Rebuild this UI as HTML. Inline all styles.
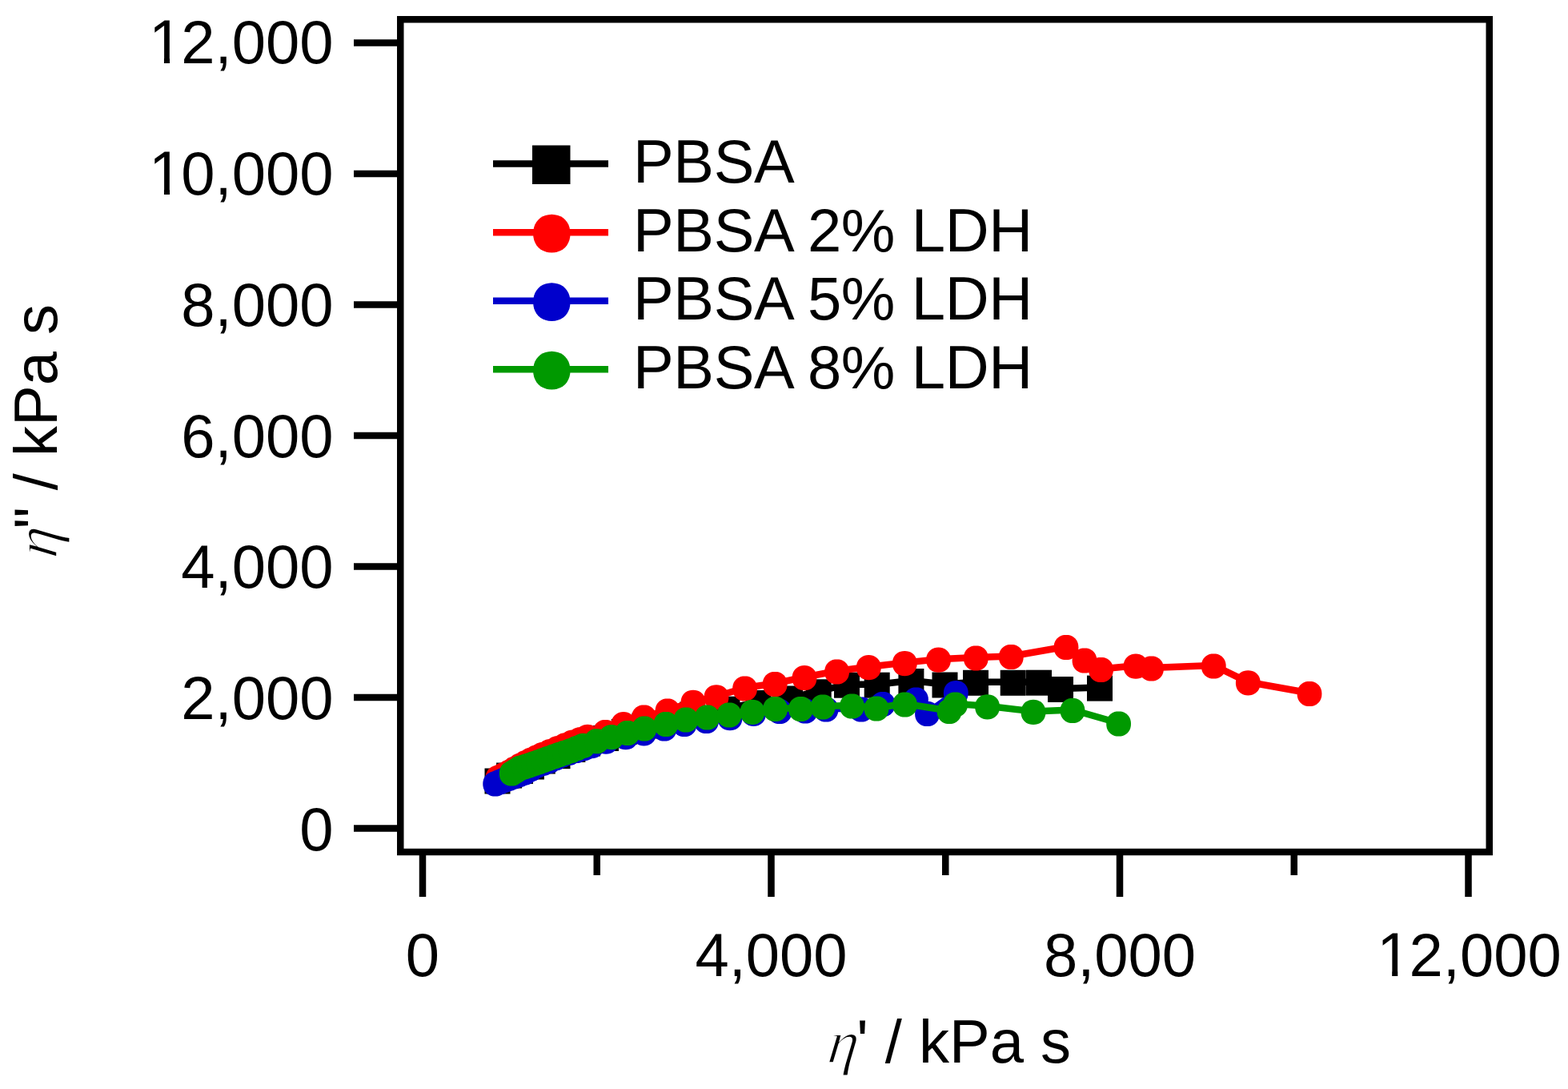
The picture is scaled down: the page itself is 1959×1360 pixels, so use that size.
<!DOCTYPE html>
<html><head><meta charset="utf-8"><title>Cole-Cole plot</title>
<style>html,body{margin:0;padding:0;background:#fff;}body{width:1959px;height:1360px;overflow:hidden;}svg{display:block;}</style>
</head><body>
<svg width="1959" height="1360" viewBox="0 0 1959 1360">
<rect x="0" y="0" width="1959" height="1360" fill="#fff"/>
<line x1="442" y1="1034.50" x2="500" y2="1034.50" stroke="#000" stroke-width="8.5"/>
<line x1="442" y1="871.00" x2="500" y2="871.00" stroke="#000" stroke-width="8.5"/>
<line x1="442" y1="707.50" x2="500" y2="707.50" stroke="#000" stroke-width="8.5"/>
<line x1="442" y1="544.00" x2="500" y2="544.00" stroke="#000" stroke-width="8.5"/>
<line x1="442" y1="380.50" x2="500" y2="380.50" stroke="#000" stroke-width="8.5"/>
<line x1="442" y1="217.00" x2="500" y2="217.00" stroke="#000" stroke-width="8.5"/>
<line x1="442" y1="53.50" x2="500" y2="53.50" stroke="#000" stroke-width="8.5"/>
<line x1="528.00" y1="1062" x2="528.00" y2="1120" stroke="#000" stroke-width="8.5"/>
<line x1="963.50" y1="1062" x2="963.50" y2="1120" stroke="#000" stroke-width="8.5"/>
<line x1="1399.00" y1="1062" x2="1399.00" y2="1120" stroke="#000" stroke-width="8.5"/>
<line x1="1834.50" y1="1062" x2="1834.50" y2="1120" stroke="#000" stroke-width="8.5"/>
<line x1="745.75" y1="1062" x2="745.75" y2="1093" stroke="#000" stroke-width="8.5"/>
<line x1="1181.25" y1="1062" x2="1181.25" y2="1093" stroke="#000" stroke-width="8.5"/>
<line x1="1616.75" y1="1062" x2="1616.75" y2="1093" stroke="#000" stroke-width="8.5"/>
<defs><clipPath id="c1" clipPathUnits="userSpaceOnUse"><rect x="-6" y="-80" width="52" height="74.1"/><rect x="18.9" y="-6.5" width="7.1" height="8"/></clipPath></defs>
<g font-family='"Liberation Sans", Arial, sans-serif' font-size="76" fill="#000">
<text x="374.23" y="1061.90">0</text>
<text x="226.31" y="898.11">2,000</text>
<text x="226.31" y="734.32">4,000</text>
<text x="226.31" y="570.53">6,000</text>
<text x="226.31" y="406.74">8,000</text>
<text transform="translate(186.05,242.95) scale(1,1.035)" clip-path="url(#c1)">1</text>
<text x="226.31" y="242.95">0,000</text>
<text transform="translate(186.05,79.16) scale(1,1.035)" clip-path="url(#c1)">1</text>
<text x="226.31" y="79.16">2,000</text>
<text x="506.87" y="1219.00">0</text>
<text x="868.41" y="1219.00">4,000</text>
<text x="1303.91" y="1219.00">8,000</text>
<text transform="translate(1720.27,1219.00) scale(1,1.035)" clip-path="url(#c1)">1</text>
<text x="1760.54" y="1219.00">2,000</text>
</g>
<g transform="translate(1032.5,1327)" font-family='"Liberation Sans", Arial, sans-serif' font-size="76"><text transform="skewX(-7)" font-family='"Liberation Serif", serif' font-style="italic" stroke="#fff" stroke-width="1.6">η</text><text x="37.70">' / kPa s</text></g>
<g transform="translate(71,698) rotate(-90)" font-family='"Liberation Sans", Arial, sans-serif' font-size="76"><text transform="skewX(-7)" font-family='"Liberation Serif", serif' font-style="italic" stroke="#fff" stroke-width="1.6">η</text><text x="37.70">" / kPa s</text></g>
<path d="M621.5,974.5 L636.1,967.5 L650.0,961.9 L663.9,956.5 L677.8,949.5 L696.5,943.1 L715.4,934.9 L734.1,927.5 L757.0,921.0 L779.8,912.9 L805.5,905.5 L835.7,899.0 L865.2,891.5 L908.5,884.7 L947.5,877.0 L987.0,871.5 L1022.7,863.3 L1058.0,854.7 L1095.7,854.7 L1138.4,850.0 L1180.5,854.5 L1219.0,851.8 L1265.7,851.8 L1298.0,851.7 L1325.0,860.0 L1374.0,858.6" fill="none" stroke="#000" stroke-width="8.5" stroke-linejoin="round"/>
<rect x="605.5" y="959.5" width="32" height="32" fill="#000"/>
<rect x="620.1" y="952.5" width="32" height="32" fill="#000"/>
<rect x="634.0" y="946.9" width="32" height="32" fill="#000"/>
<rect x="647.9" y="941.5" width="32" height="32" fill="#000"/>
<rect x="661.8" y="934.5" width="32" height="32" fill="#000"/>
<rect x="680.5" y="928.1" width="32" height="32" fill="#000"/>
<rect x="699.4" y="919.9" width="32" height="32" fill="#000"/>
<rect x="718.1" y="912.5" width="32" height="32" fill="#000"/>
<rect x="741.0" y="906.0" width="32" height="32" fill="#000"/>
<rect x="763.8" y="897.9" width="32" height="32" fill="#000"/>
<rect x="789.5" y="890.5" width="32" height="32" fill="#000"/>
<rect x="819.7" y="884.0" width="32" height="32" fill="#000"/>
<rect x="849.2" y="876.5" width="32" height="32" fill="#000"/>
<rect x="892.5" y="869.7" width="32" height="32" fill="#000"/>
<rect x="931.5" y="862.0" width="32" height="32" fill="#000"/>
<rect x="971.0" y="856.5" width="32" height="32" fill="#000"/>
<rect x="1006.7" y="848.3" width="32" height="32" fill="#000"/>
<rect x="1042.0" y="839.7" width="32" height="32" fill="#000"/>
<rect x="1079.7" y="839.7" width="32" height="32" fill="#000"/>
<rect x="1122.4" y="835.0" width="32" height="32" fill="#000"/>
<rect x="1164.5" y="839.5" width="32" height="32" fill="#000"/>
<rect x="1203.0" y="836.8" width="32" height="32" fill="#000"/>
<rect x="1249.7" y="836.8" width="32" height="32" fill="#000"/>
<rect x="1282.0" y="836.7" width="32" height="32" fill="#000"/>
<rect x="1309.0" y="845.0" width="32" height="32" fill="#000"/>
<rect x="1358.0" y="843.6" width="32" height="32" fill="#000"/>
<path d="M622.0,970.5 L629.0,967.0 L636.1,963.5 L643.0,959.3 L650.0,955.2 L657.0,951.6 L663.9,948.0 L670.8,944.8 L677.8,941.5 L687.1,937.7 L696.5,933.8 L706.0,929.9 L715.4,926.1 L724.8,922.8 L734.1,919.4 L756.3,913.5 L779.0,903.7 L804.5,895.0 L834.0,887.0 L866.0,876.3 L895.0,869.8 L930.6,859.0 L968.2,853.5 L1005.0,845.7 L1045.6,838.0 L1085.3,832.7 L1130.3,827.6 L1172.5,823.2 L1219.3,821.0 L1263.3,819.5 L1332.0,807.5 L1355.0,824.0 L1375.5,835.5 L1419.0,831.2 L1438.5,834.0 L1516.3,831.0 L1559.3,851.8 L1636.0,865.5" fill="none" stroke="#f00" stroke-width="8.5" stroke-linejoin="round"/>
<path d="M637.40 971.50l-0.18 2.78 -0.53 2.45 -0.87 2.25 -1.19 2.03 -1.49 1.79 -1.76 1.51 -2.01 1.20 -2.22 0.88 -2.42 0.53 -2.74 0.18 -2.74 -0.18 -2.42 -0.53 -2.22 -0.88 -2.01 -1.20 -1.76 -1.51 -1.49 -1.79 -1.19 -2.03 -0.87 -2.25 -0.53 -2.45 -0.18 -2.78 0.18 -2.78 0.53 -2.45 0.87 -2.25 1.19 -2.03 1.49 -1.79 1.76 -1.51 2.01 -1.20 2.22 -0.88 2.42 -0.53 2.74 -0.18 2.74 0.18 2.42 0.53 2.22 0.88 2.01 1.20 1.76 1.51 1.49 1.79 1.19 2.03 0.87 2.25 0.53 2.45z" fill="#f00"/>
<path d="M644.45 967.98l-0.18 2.78 -0.53 2.45 -0.87 2.25 -1.19 2.03 -1.49 1.79 -1.76 1.51 -2.01 1.20 -2.22 0.88 -2.42 0.53 -2.74 0.18 -2.74 -0.18 -2.42 -0.53 -2.22 -0.88 -2.01 -1.20 -1.76 -1.51 -1.49 -1.79 -1.19 -2.03 -0.87 -2.25 -0.53 -2.45 -0.18 -2.78 0.18 -2.78 0.53 -2.45 0.87 -2.25 1.19 -2.03 1.49 -1.79 1.76 -1.51 2.01 -1.20 2.22 -0.88 2.42 -0.53 2.74 -0.18 2.74 0.18 2.42 0.53 2.22 0.88 2.01 1.20 1.76 1.51 1.49 1.79 1.19 2.03 0.87 2.25 0.53 2.45z" fill="#f00"/>
<path d="M651.50 964.45l-0.18 2.78 -0.53 2.45 -0.87 2.25 -1.19 2.03 -1.49 1.79 -1.76 1.51 -2.01 1.20 -2.22 0.88 -2.42 0.53 -2.74 0.18 -2.74 -0.18 -2.42 -0.53 -2.22 -0.88 -2.01 -1.20 -1.76 -1.51 -1.49 -1.79 -1.19 -2.03 -0.87 -2.25 -0.53 -2.45 -0.18 -2.78 0.18 -2.78 0.53 -2.45 0.87 -2.25 1.19 -2.03 1.49 -1.79 1.76 -1.51 2.01 -1.20 2.22 -0.88 2.42 -0.53 2.74 -0.18 2.74 0.18 2.42 0.53 2.22 0.88 2.01 1.20 1.76 1.51 1.49 1.79 1.19 2.03 0.87 2.25 0.53 2.45z" fill="#f00"/>
<path d="M658.45 960.33l-0.18 2.78 -0.53 2.45 -0.87 2.25 -1.19 2.03 -1.49 1.79 -1.76 1.51 -2.01 1.20 -2.22 0.88 -2.42 0.53 -2.74 0.18 -2.74 -0.18 -2.42 -0.53 -2.22 -0.88 -2.01 -1.20 -1.76 -1.51 -1.49 -1.79 -1.19 -2.03 -0.87 -2.25 -0.53 -2.45 -0.18 -2.78 0.18 -2.78 0.53 -2.45 0.87 -2.25 1.19 -2.03 1.49 -1.79 1.76 -1.51 2.01 -1.20 2.22 -0.88 2.42 -0.53 2.74 -0.18 2.74 0.18 2.42 0.53 2.22 0.88 2.01 1.20 1.76 1.51 1.49 1.79 1.19 2.03 0.87 2.25 0.53 2.45z" fill="#f00"/>
<path d="M665.40 956.21l-0.18 2.78 -0.53 2.45 -0.87 2.25 -1.19 2.03 -1.49 1.79 -1.76 1.51 -2.01 1.20 -2.22 0.88 -2.42 0.53 -2.74 0.18 -2.74 -0.18 -2.42 -0.53 -2.22 -0.88 -2.01 -1.20 -1.76 -1.51 -1.49 -1.79 -1.19 -2.03 -0.87 -2.25 -0.53 -2.45 -0.18 -2.78 0.18 -2.78 0.53 -2.45 0.87 -2.25 1.19 -2.03 1.49 -1.79 1.76 -1.51 2.01 -1.20 2.22 -0.88 2.42 -0.53 2.74 -0.18 2.74 0.18 2.42 0.53 2.22 0.88 2.01 1.20 1.76 1.51 1.49 1.79 1.19 2.03 0.87 2.25 0.53 2.45z" fill="#f00"/>
<path d="M672.35 952.63l-0.18 2.78 -0.53 2.45 -0.87 2.25 -1.19 2.03 -1.49 1.79 -1.76 1.51 -2.01 1.20 -2.22 0.88 -2.42 0.53 -2.74 0.18 -2.74 -0.18 -2.42 -0.53 -2.22 -0.88 -2.01 -1.20 -1.76 -1.51 -1.49 -1.79 -1.19 -2.03 -0.87 -2.25 -0.53 -2.45 -0.18 -2.78 0.18 -2.78 0.53 -2.45 0.87 -2.25 1.19 -2.03 1.49 -1.79 1.76 -1.51 2.01 -1.20 2.22 -0.88 2.42 -0.53 2.74 -0.18 2.74 0.18 2.42 0.53 2.22 0.88 2.01 1.20 1.76 1.51 1.49 1.79 1.19 2.03 0.87 2.25 0.53 2.45z" fill="#f00"/>
<path d="M679.30 949.05l-0.18 2.78 -0.53 2.45 -0.87 2.25 -1.19 2.03 -1.49 1.79 -1.76 1.51 -2.01 1.20 -2.22 0.88 -2.42 0.53 -2.74 0.18 -2.74 -0.18 -2.42 -0.53 -2.22 -0.88 -2.01 -1.20 -1.76 -1.51 -1.49 -1.79 -1.19 -2.03 -0.87 -2.25 -0.53 -2.45 -0.18 -2.78 0.18 -2.78 0.53 -2.45 0.87 -2.25 1.19 -2.03 1.49 -1.79 1.76 -1.51 2.01 -1.20 2.22 -0.88 2.42 -0.53 2.74 -0.18 2.74 0.18 2.42 0.53 2.22 0.88 2.01 1.20 1.76 1.51 1.49 1.79 1.19 2.03 0.87 2.25 0.53 2.45z" fill="#f00"/>
<path d="M686.25 945.79l-0.18 2.78 -0.53 2.45 -0.87 2.25 -1.19 2.03 -1.49 1.79 -1.76 1.51 -2.01 1.20 -2.22 0.88 -2.42 0.53 -2.74 0.18 -2.74 -0.18 -2.42 -0.53 -2.22 -0.88 -2.01 -1.20 -1.76 -1.51 -1.49 -1.79 -1.19 -2.03 -0.87 -2.25 -0.53 -2.45 -0.18 -2.78 0.18 -2.78 0.53 -2.45 0.87 -2.25 1.19 -2.03 1.49 -1.79 1.76 -1.51 2.01 -1.20 2.22 -0.88 2.42 -0.53 2.74 -0.18 2.74 0.18 2.42 0.53 2.22 0.88 2.01 1.20 1.76 1.51 1.49 1.79 1.19 2.03 0.87 2.25 0.53 2.45z" fill="#f00"/>
<path d="M693.20 942.54l-0.18 2.78 -0.53 2.45 -0.87 2.25 -1.19 2.03 -1.49 1.79 -1.76 1.51 -2.01 1.20 -2.22 0.88 -2.42 0.53 -2.74 0.18 -2.74 -0.18 -2.42 -0.53 -2.22 -0.88 -2.01 -1.20 -1.76 -1.51 -1.49 -1.79 -1.19 -2.03 -0.87 -2.25 -0.53 -2.45 -0.18 -2.78 0.18 -2.78 0.53 -2.45 0.87 -2.25 1.19 -2.03 1.49 -1.79 1.76 -1.51 2.01 -1.20 2.22 -0.88 2.42 -0.53 2.74 -0.18 2.74 0.18 2.42 0.53 2.22 0.88 2.01 1.20 1.76 1.51 1.49 1.79 1.19 2.03 0.87 2.25 0.53 2.45z" fill="#f00"/>
<path d="M702.55 938.65l-0.18 2.78 -0.53 2.45 -0.87 2.25 -1.19 2.03 -1.49 1.79 -1.76 1.51 -2.01 1.20 -2.22 0.88 -2.42 0.53 -2.74 0.18 -2.74 -0.18 -2.42 -0.53 -2.22 -0.88 -2.01 -1.20 -1.76 -1.51 -1.49 -1.79 -1.19 -2.03 -0.87 -2.25 -0.53 -2.45 -0.18 -2.78 0.18 -2.78 0.53 -2.45 0.87 -2.25 1.19 -2.03 1.49 -1.79 1.76 -1.51 2.01 -1.20 2.22 -0.88 2.42 -0.53 2.74 -0.18 2.74 0.18 2.42 0.53 2.22 0.88 2.01 1.20 1.76 1.51 1.49 1.79 1.19 2.03 0.87 2.25 0.53 2.45z" fill="#f00"/>
<path d="M711.90 934.77l-0.18 2.78 -0.53 2.45 -0.87 2.25 -1.19 2.03 -1.49 1.79 -1.76 1.51 -2.01 1.20 -2.22 0.88 -2.42 0.53 -2.74 0.18 -2.74 -0.18 -2.42 -0.53 -2.22 -0.88 -2.01 -1.20 -1.76 -1.51 -1.49 -1.79 -1.19 -2.03 -0.87 -2.25 -0.53 -2.45 -0.18 -2.78 0.18 -2.78 0.53 -2.45 0.87 -2.25 1.19 -2.03 1.49 -1.79 1.76 -1.51 2.01 -1.20 2.22 -0.88 2.42 -0.53 2.74 -0.18 2.74 0.18 2.42 0.53 2.22 0.88 2.01 1.20 1.76 1.51 1.49 1.79 1.19 2.03 0.87 2.25 0.53 2.45z" fill="#f00"/>
<path d="M721.35 930.94l-0.18 2.78 -0.53 2.45 -0.87 2.25 -1.19 2.03 -1.49 1.79 -1.76 1.51 -2.01 1.20 -2.22 0.88 -2.42 0.53 -2.74 0.18 -2.74 -0.18 -2.42 -0.53 -2.22 -0.88 -2.01 -1.20 -1.76 -1.51 -1.49 -1.79 -1.19 -2.03 -0.87 -2.25 -0.53 -2.45 -0.18 -2.78 0.18 -2.78 0.53 -2.45 0.87 -2.25 1.19 -2.03 1.49 -1.79 1.76 -1.51 2.01 -1.20 2.22 -0.88 2.42 -0.53 2.74 -0.18 2.74 0.18 2.42 0.53 2.22 0.88 2.01 1.20 1.76 1.51 1.49 1.79 1.19 2.03 0.87 2.25 0.53 2.45z" fill="#f00"/>
<path d="M730.80 927.12l-0.18 2.78 -0.53 2.45 -0.87 2.25 -1.19 2.03 -1.49 1.79 -1.76 1.51 -2.01 1.20 -2.22 0.88 -2.42 0.53 -2.74 0.18 -2.74 -0.18 -2.42 -0.53 -2.22 -0.88 -2.01 -1.20 -1.76 -1.51 -1.49 -1.79 -1.19 -2.03 -0.87 -2.25 -0.53 -2.45 -0.18 -2.78 0.18 -2.78 0.53 -2.45 0.87 -2.25 1.19 -2.03 1.49 -1.79 1.76 -1.51 2.01 -1.20 2.22 -0.88 2.42 -0.53 2.74 -0.18 2.74 0.18 2.42 0.53 2.22 0.88 2.01 1.20 1.76 1.51 1.49 1.79 1.19 2.03 0.87 2.25 0.53 2.45z" fill="#f00"/>
<path d="M740.15 923.77l-0.18 2.78 -0.53 2.45 -0.87 2.25 -1.19 2.03 -1.49 1.79 -1.76 1.51 -2.01 1.20 -2.22 0.88 -2.42 0.53 -2.74 0.18 -2.74 -0.18 -2.42 -0.53 -2.22 -0.88 -2.01 -1.20 -1.76 -1.51 -1.49 -1.79 -1.19 -2.03 -0.87 -2.25 -0.53 -2.45 -0.18 -2.78 0.18 -2.78 0.53 -2.45 0.87 -2.25 1.19 -2.03 1.49 -1.79 1.76 -1.51 2.01 -1.20 2.22 -0.88 2.42 -0.53 2.74 -0.18 2.74 0.18 2.42 0.53 2.22 0.88 2.01 1.20 1.76 1.51 1.49 1.79 1.19 2.03 0.87 2.25 0.53 2.45z" fill="#f00"/>
<path d="M749.50 920.43l-0.18 2.78 -0.53 2.45 -0.87 2.25 -1.19 2.03 -1.49 1.79 -1.76 1.51 -2.01 1.20 -2.22 0.88 -2.42 0.53 -2.74 0.18 -2.74 -0.18 -2.42 -0.53 -2.22 -0.88 -2.01 -1.20 -1.76 -1.51 -1.49 -1.79 -1.19 -2.03 -0.87 -2.25 -0.53 -2.45 -0.18 -2.78 0.18 -2.78 0.53 -2.45 0.87 -2.25 1.19 -2.03 1.49 -1.79 1.76 -1.51 2.01 -1.20 2.22 -0.88 2.42 -0.53 2.74 -0.18 2.74 0.18 2.42 0.53 2.22 0.88 2.01 1.20 1.76 1.51 1.49 1.79 1.19 2.03 0.87 2.25 0.53 2.45z" fill="#f00"/>
<path d="M771.70 914.50l-0.18 2.78 -0.53 2.45 -0.87 2.25 -1.19 2.03 -1.49 1.79 -1.76 1.51 -2.01 1.20 -2.22 0.88 -2.42 0.53 -2.74 0.18 -2.74 -0.18 -2.42 -0.53 -2.22 -0.88 -2.01 -1.20 -1.76 -1.51 -1.49 -1.79 -1.19 -2.03 -0.87 -2.25 -0.53 -2.45 -0.18 -2.78 0.18 -2.78 0.53 -2.45 0.87 -2.25 1.19 -2.03 1.49 -1.79 1.76 -1.51 2.01 -1.20 2.22 -0.88 2.42 -0.53 2.74 -0.18 2.74 0.18 2.42 0.53 2.22 0.88 2.01 1.20 1.76 1.51 1.49 1.79 1.19 2.03 0.87 2.25 0.53 2.45z" fill="#f00"/>
<path d="M794.40 904.70l-0.18 2.78 -0.53 2.45 -0.87 2.25 -1.19 2.03 -1.49 1.79 -1.76 1.51 -2.01 1.20 -2.22 0.88 -2.42 0.53 -2.74 0.18 -2.74 -0.18 -2.42 -0.53 -2.22 -0.88 -2.01 -1.20 -1.76 -1.51 -1.49 -1.79 -1.19 -2.03 -0.87 -2.25 -0.53 -2.45 -0.18 -2.78 0.18 -2.78 0.53 -2.45 0.87 -2.25 1.19 -2.03 1.49 -1.79 1.76 -1.51 2.01 -1.20 2.22 -0.88 2.42 -0.53 2.74 -0.18 2.74 0.18 2.42 0.53 2.22 0.88 2.01 1.20 1.76 1.51 1.49 1.79 1.19 2.03 0.87 2.25 0.53 2.45z" fill="#f00"/>
<path d="M819.90 896.00l-0.18 2.78 -0.53 2.45 -0.87 2.25 -1.19 2.03 -1.49 1.79 -1.76 1.51 -2.01 1.20 -2.22 0.88 -2.42 0.53 -2.74 0.18 -2.74 -0.18 -2.42 -0.53 -2.22 -0.88 -2.01 -1.20 -1.76 -1.51 -1.49 -1.79 -1.19 -2.03 -0.87 -2.25 -0.53 -2.45 -0.18 -2.78 0.18 -2.78 0.53 -2.45 0.87 -2.25 1.19 -2.03 1.49 -1.79 1.76 -1.51 2.01 -1.20 2.22 -0.88 2.42 -0.53 2.74 -0.18 2.74 0.18 2.42 0.53 2.22 0.88 2.01 1.20 1.76 1.51 1.49 1.79 1.19 2.03 0.87 2.25 0.53 2.45z" fill="#f00"/>
<path d="M849.40 888.00l-0.18 2.78 -0.53 2.45 -0.87 2.25 -1.19 2.03 -1.49 1.79 -1.76 1.51 -2.01 1.20 -2.22 0.88 -2.42 0.53 -2.74 0.18 -2.74 -0.18 -2.42 -0.53 -2.22 -0.88 -2.01 -1.20 -1.76 -1.51 -1.49 -1.79 -1.19 -2.03 -0.87 -2.25 -0.53 -2.45 -0.18 -2.78 0.18 -2.78 0.53 -2.45 0.87 -2.25 1.19 -2.03 1.49 -1.79 1.76 -1.51 2.01 -1.20 2.22 -0.88 2.42 -0.53 2.74 -0.18 2.74 0.18 2.42 0.53 2.22 0.88 2.01 1.20 1.76 1.51 1.49 1.79 1.19 2.03 0.87 2.25 0.53 2.45z" fill="#f00"/>
<path d="M881.40 877.30l-0.18 2.78 -0.53 2.45 -0.87 2.25 -1.19 2.03 -1.49 1.79 -1.76 1.51 -2.01 1.20 -2.22 0.88 -2.42 0.53 -2.74 0.18 -2.74 -0.18 -2.42 -0.53 -2.22 -0.88 -2.01 -1.20 -1.76 -1.51 -1.49 -1.79 -1.19 -2.03 -0.87 -2.25 -0.53 -2.45 -0.18 -2.78 0.18 -2.78 0.53 -2.45 0.87 -2.25 1.19 -2.03 1.49 -1.79 1.76 -1.51 2.01 -1.20 2.22 -0.88 2.42 -0.53 2.74 -0.18 2.74 0.18 2.42 0.53 2.22 0.88 2.01 1.20 1.76 1.51 1.49 1.79 1.19 2.03 0.87 2.25 0.53 2.45z" fill="#f00"/>
<path d="M910.40 870.80l-0.18 2.78 -0.53 2.45 -0.87 2.25 -1.19 2.03 -1.49 1.79 -1.76 1.51 -2.01 1.20 -2.22 0.88 -2.42 0.53 -2.74 0.18 -2.74 -0.18 -2.42 -0.53 -2.22 -0.88 -2.01 -1.20 -1.76 -1.51 -1.49 -1.79 -1.19 -2.03 -0.87 -2.25 -0.53 -2.45 -0.18 -2.78 0.18 -2.78 0.53 -2.45 0.87 -2.25 1.19 -2.03 1.49 -1.79 1.76 -1.51 2.01 -1.20 2.22 -0.88 2.42 -0.53 2.74 -0.18 2.74 0.18 2.42 0.53 2.22 0.88 2.01 1.20 1.76 1.51 1.49 1.79 1.19 2.03 0.87 2.25 0.53 2.45z" fill="#f00"/>
<path d="M946.00 860.00l-0.18 2.78 -0.53 2.45 -0.87 2.25 -1.19 2.03 -1.49 1.79 -1.76 1.51 -2.01 1.20 -2.22 0.88 -2.42 0.53 -2.74 0.18 -2.74 -0.18 -2.42 -0.53 -2.22 -0.88 -2.01 -1.20 -1.76 -1.51 -1.49 -1.79 -1.19 -2.03 -0.87 -2.25 -0.53 -2.45 -0.18 -2.78 0.18 -2.78 0.53 -2.45 0.87 -2.25 1.19 -2.03 1.49 -1.79 1.76 -1.51 2.01 -1.20 2.22 -0.88 2.42 -0.53 2.74 -0.18 2.74 0.18 2.42 0.53 2.22 0.88 2.01 1.20 1.76 1.51 1.49 1.79 1.19 2.03 0.87 2.25 0.53 2.45z" fill="#f00"/>
<path d="M983.60 854.50l-0.18 2.78 -0.53 2.45 -0.87 2.25 -1.19 2.03 -1.49 1.79 -1.76 1.51 -2.01 1.20 -2.22 0.88 -2.42 0.53 -2.74 0.18 -2.74 -0.18 -2.42 -0.53 -2.22 -0.88 -2.01 -1.20 -1.76 -1.51 -1.49 -1.79 -1.19 -2.03 -0.87 -2.25 -0.53 -2.45 -0.18 -2.78 0.18 -2.78 0.53 -2.45 0.87 -2.25 1.19 -2.03 1.49 -1.79 1.76 -1.51 2.01 -1.20 2.22 -0.88 2.42 -0.53 2.74 -0.18 2.74 0.18 2.42 0.53 2.22 0.88 2.01 1.20 1.76 1.51 1.49 1.79 1.19 2.03 0.87 2.25 0.53 2.45z" fill="#f00"/>
<path d="M1020.40 846.70l-0.18 2.78 -0.53 2.45 -0.87 2.25 -1.19 2.03 -1.49 1.79 -1.76 1.51 -2.01 1.20 -2.22 0.88 -2.42 0.53 -2.74 0.18 -2.74 -0.18 -2.42 -0.53 -2.22 -0.88 -2.01 -1.20 -1.76 -1.51 -1.49 -1.79 -1.19 -2.03 -0.87 -2.25 -0.53 -2.45 -0.18 -2.78 0.18 -2.78 0.53 -2.45 0.87 -2.25 1.19 -2.03 1.49 -1.79 1.76 -1.51 2.01 -1.20 2.22 -0.88 2.42 -0.53 2.74 -0.18 2.74 0.18 2.42 0.53 2.22 0.88 2.01 1.20 1.76 1.51 1.49 1.79 1.19 2.03 0.87 2.25 0.53 2.45z" fill="#f00"/>
<path d="M1061.00 839.00l-0.18 2.78 -0.53 2.45 -0.87 2.25 -1.19 2.03 -1.49 1.79 -1.76 1.51 -2.01 1.20 -2.22 0.88 -2.42 0.53 -2.74 0.18 -2.74 -0.18 -2.42 -0.53 -2.22 -0.88 -2.01 -1.20 -1.76 -1.51 -1.49 -1.79 -1.19 -2.03 -0.87 -2.25 -0.53 -2.45 -0.18 -2.78 0.18 -2.78 0.53 -2.45 0.87 -2.25 1.19 -2.03 1.49 -1.79 1.76 -1.51 2.01 -1.20 2.22 -0.88 2.42 -0.53 2.74 -0.18 2.74 0.18 2.42 0.53 2.22 0.88 2.01 1.20 1.76 1.51 1.49 1.79 1.19 2.03 0.87 2.25 0.53 2.45z" fill="#f00"/>
<path d="M1100.70 833.70l-0.18 2.78 -0.53 2.45 -0.87 2.25 -1.19 2.03 -1.49 1.79 -1.76 1.51 -2.01 1.20 -2.22 0.88 -2.42 0.53 -2.74 0.18 -2.74 -0.18 -2.42 -0.53 -2.22 -0.88 -2.01 -1.20 -1.76 -1.51 -1.49 -1.79 -1.19 -2.03 -0.87 -2.25 -0.53 -2.45 -0.18 -2.78 0.18 -2.78 0.53 -2.45 0.87 -2.25 1.19 -2.03 1.49 -1.79 1.76 -1.51 2.01 -1.20 2.22 -0.88 2.42 -0.53 2.74 -0.18 2.74 0.18 2.42 0.53 2.22 0.88 2.01 1.20 1.76 1.51 1.49 1.79 1.19 2.03 0.87 2.25 0.53 2.45z" fill="#f00"/>
<path d="M1145.70 828.60l-0.18 2.78 -0.53 2.45 -0.87 2.25 -1.19 2.03 -1.49 1.79 -1.76 1.51 -2.01 1.20 -2.22 0.88 -2.42 0.53 -2.74 0.18 -2.74 -0.18 -2.42 -0.53 -2.22 -0.88 -2.01 -1.20 -1.76 -1.51 -1.49 -1.79 -1.19 -2.03 -0.87 -2.25 -0.53 -2.45 -0.18 -2.78 0.18 -2.78 0.53 -2.45 0.87 -2.25 1.19 -2.03 1.49 -1.79 1.76 -1.51 2.01 -1.20 2.22 -0.88 2.42 -0.53 2.74 -0.18 2.74 0.18 2.42 0.53 2.22 0.88 2.01 1.20 1.76 1.51 1.49 1.79 1.19 2.03 0.87 2.25 0.53 2.45z" fill="#f00"/>
<path d="M1187.90 824.20l-0.18 2.78 -0.53 2.45 -0.87 2.25 -1.19 2.03 -1.49 1.79 -1.76 1.51 -2.01 1.20 -2.22 0.88 -2.42 0.53 -2.74 0.18 -2.74 -0.18 -2.42 -0.53 -2.22 -0.88 -2.01 -1.20 -1.76 -1.51 -1.49 -1.79 -1.19 -2.03 -0.87 -2.25 -0.53 -2.45 -0.18 -2.78 0.18 -2.78 0.53 -2.45 0.87 -2.25 1.19 -2.03 1.49 -1.79 1.76 -1.51 2.01 -1.20 2.22 -0.88 2.42 -0.53 2.74 -0.18 2.74 0.18 2.42 0.53 2.22 0.88 2.01 1.20 1.76 1.51 1.49 1.79 1.19 2.03 0.87 2.25 0.53 2.45z" fill="#f00"/>
<path d="M1234.70 822.00l-0.18 2.78 -0.53 2.45 -0.87 2.25 -1.19 2.03 -1.49 1.79 -1.76 1.51 -2.01 1.20 -2.22 0.88 -2.42 0.53 -2.74 0.18 -2.74 -0.18 -2.42 -0.53 -2.22 -0.88 -2.01 -1.20 -1.76 -1.51 -1.49 -1.79 -1.19 -2.03 -0.87 -2.25 -0.53 -2.45 -0.18 -2.78 0.18 -2.78 0.53 -2.45 0.87 -2.25 1.19 -2.03 1.49 -1.79 1.76 -1.51 2.01 -1.20 2.22 -0.88 2.42 -0.53 2.74 -0.18 2.74 0.18 2.42 0.53 2.22 0.88 2.01 1.20 1.76 1.51 1.49 1.79 1.19 2.03 0.87 2.25 0.53 2.45z" fill="#f00"/>
<path d="M1278.70 820.50l-0.18 2.78 -0.53 2.45 -0.87 2.25 -1.19 2.03 -1.49 1.79 -1.76 1.51 -2.01 1.20 -2.22 0.88 -2.42 0.53 -2.74 0.18 -2.74 -0.18 -2.42 -0.53 -2.22 -0.88 -2.01 -1.20 -1.76 -1.51 -1.49 -1.79 -1.19 -2.03 -0.87 -2.25 -0.53 -2.45 -0.18 -2.78 0.18 -2.78 0.53 -2.45 0.87 -2.25 1.19 -2.03 1.49 -1.79 1.76 -1.51 2.01 -1.20 2.22 -0.88 2.42 -0.53 2.74 -0.18 2.74 0.18 2.42 0.53 2.22 0.88 2.01 1.20 1.76 1.51 1.49 1.79 1.19 2.03 0.87 2.25 0.53 2.45z" fill="#f00"/>
<path d="M1347.40 808.50l-0.18 2.78 -0.53 2.45 -0.87 2.25 -1.19 2.03 -1.49 1.79 -1.76 1.51 -2.01 1.20 -2.22 0.88 -2.42 0.53 -2.74 0.18 -2.74 -0.18 -2.42 -0.53 -2.22 -0.88 -2.01 -1.20 -1.76 -1.51 -1.49 -1.79 -1.19 -2.03 -0.87 -2.25 -0.53 -2.45 -0.18 -2.78 0.18 -2.78 0.53 -2.45 0.87 -2.25 1.19 -2.03 1.49 -1.79 1.76 -1.51 2.01 -1.20 2.22 -0.88 2.42 -0.53 2.74 -0.18 2.74 0.18 2.42 0.53 2.22 0.88 2.01 1.20 1.76 1.51 1.49 1.79 1.19 2.03 0.87 2.25 0.53 2.45z" fill="#f00"/>
<path d="M1370.40 825.00l-0.18 2.78 -0.53 2.45 -0.87 2.25 -1.19 2.03 -1.49 1.79 -1.76 1.51 -2.01 1.20 -2.22 0.88 -2.42 0.53 -2.74 0.18 -2.74 -0.18 -2.42 -0.53 -2.22 -0.88 -2.01 -1.20 -1.76 -1.51 -1.49 -1.79 -1.19 -2.03 -0.87 -2.25 -0.53 -2.45 -0.18 -2.78 0.18 -2.78 0.53 -2.45 0.87 -2.25 1.19 -2.03 1.49 -1.79 1.76 -1.51 2.01 -1.20 2.22 -0.88 2.42 -0.53 2.74 -0.18 2.74 0.18 2.42 0.53 2.22 0.88 2.01 1.20 1.76 1.51 1.49 1.79 1.19 2.03 0.87 2.25 0.53 2.45z" fill="#f00"/>
<path d="M1390.90 836.50l-0.18 2.78 -0.53 2.45 -0.87 2.25 -1.19 2.03 -1.49 1.79 -1.76 1.51 -2.01 1.20 -2.22 0.88 -2.42 0.53 -2.74 0.18 -2.74 -0.18 -2.42 -0.53 -2.22 -0.88 -2.01 -1.20 -1.76 -1.51 -1.49 -1.79 -1.19 -2.03 -0.87 -2.25 -0.53 -2.45 -0.18 -2.78 0.18 -2.78 0.53 -2.45 0.87 -2.25 1.19 -2.03 1.49 -1.79 1.76 -1.51 2.01 -1.20 2.22 -0.88 2.42 -0.53 2.74 -0.18 2.74 0.18 2.42 0.53 2.22 0.88 2.01 1.20 1.76 1.51 1.49 1.79 1.19 2.03 0.87 2.25 0.53 2.45z" fill="#f00"/>
<path d="M1434.40 832.20l-0.18 2.78 -0.53 2.45 -0.87 2.25 -1.19 2.03 -1.49 1.79 -1.76 1.51 -2.01 1.20 -2.22 0.88 -2.42 0.53 -2.74 0.18 -2.74 -0.18 -2.42 -0.53 -2.22 -0.88 -2.01 -1.20 -1.76 -1.51 -1.49 -1.79 -1.19 -2.03 -0.87 -2.25 -0.53 -2.45 -0.18 -2.78 0.18 -2.78 0.53 -2.45 0.87 -2.25 1.19 -2.03 1.49 -1.79 1.76 -1.51 2.01 -1.20 2.22 -0.88 2.42 -0.53 2.74 -0.18 2.74 0.18 2.42 0.53 2.22 0.88 2.01 1.20 1.76 1.51 1.49 1.79 1.19 2.03 0.87 2.25 0.53 2.45z" fill="#f00"/>
<path d="M1453.90 835.00l-0.18 2.78 -0.53 2.45 -0.87 2.25 -1.19 2.03 -1.49 1.79 -1.76 1.51 -2.01 1.20 -2.22 0.88 -2.42 0.53 -2.74 0.18 -2.74 -0.18 -2.42 -0.53 -2.22 -0.88 -2.01 -1.20 -1.76 -1.51 -1.49 -1.79 -1.19 -2.03 -0.87 -2.25 -0.53 -2.45 -0.18 -2.78 0.18 -2.78 0.53 -2.45 0.87 -2.25 1.19 -2.03 1.49 -1.79 1.76 -1.51 2.01 -1.20 2.22 -0.88 2.42 -0.53 2.74 -0.18 2.74 0.18 2.42 0.53 2.22 0.88 2.01 1.20 1.76 1.51 1.49 1.79 1.19 2.03 0.87 2.25 0.53 2.45z" fill="#f00"/>
<path d="M1531.70 832.00l-0.18 2.78 -0.53 2.45 -0.87 2.25 -1.19 2.03 -1.49 1.79 -1.76 1.51 -2.01 1.20 -2.22 0.88 -2.42 0.53 -2.74 0.18 -2.74 -0.18 -2.42 -0.53 -2.22 -0.88 -2.01 -1.20 -1.76 -1.51 -1.49 -1.79 -1.19 -2.03 -0.87 -2.25 -0.53 -2.45 -0.18 -2.78 0.18 -2.78 0.53 -2.45 0.87 -2.25 1.19 -2.03 1.49 -1.79 1.76 -1.51 2.01 -1.20 2.22 -0.88 2.42 -0.53 2.74 -0.18 2.74 0.18 2.42 0.53 2.22 0.88 2.01 1.20 1.76 1.51 1.49 1.79 1.19 2.03 0.87 2.25 0.53 2.45z" fill="#f00"/>
<path d="M1574.70 852.80l-0.18 2.78 -0.53 2.45 -0.87 2.25 -1.19 2.03 -1.49 1.79 -1.76 1.51 -2.01 1.20 -2.22 0.88 -2.42 0.53 -2.74 0.18 -2.74 -0.18 -2.42 -0.53 -2.22 -0.88 -2.01 -1.20 -1.76 -1.51 -1.49 -1.79 -1.19 -2.03 -0.87 -2.25 -0.53 -2.45 -0.18 -2.78 0.18 -2.78 0.53 -2.45 0.87 -2.25 1.19 -2.03 1.49 -1.79 1.76 -1.51 2.01 -1.20 2.22 -0.88 2.42 -0.53 2.74 -0.18 2.74 0.18 2.42 0.53 2.22 0.88 2.01 1.20 1.76 1.51 1.49 1.79 1.19 2.03 0.87 2.25 0.53 2.45z" fill="#f00"/>
<path d="M1651.40 866.50l-0.18 2.78 -0.53 2.45 -0.87 2.25 -1.19 2.03 -1.49 1.79 -1.76 1.51 -2.01 1.20 -2.22 0.88 -2.42 0.53 -2.74 0.18 -2.74 -0.18 -2.42 -0.53 -2.22 -0.88 -2.01 -1.20 -1.76 -1.51 -1.49 -1.79 -1.19 -2.03 -0.87 -2.25 -0.53 -2.45 -0.18 -2.78 0.18 -2.78 0.53 -2.45 0.87 -2.25 1.19 -2.03 1.49 -1.79 1.76 -1.51 2.01 -1.20 2.22 -0.88 2.42 -0.53 2.74 -0.18 2.74 0.18 2.42 0.53 2.22 0.88 2.01 1.20 1.76 1.51 1.49 1.79 1.19 2.03 0.87 2.25 0.53 2.45z" fill="#f00"/>
<path d="M618.7,978.0 L624.2,975.8 L629.6,973.5 L635.7,971.2 L641.8,969.0 L648.6,966.5 L655.5,964.0 L663.2,959.5 L671.0,955.0 L678.5,952.2 L686.0,949.5 L694.0,945.8 L702.0,942.0 L711.0,939.2 L720.0,936.5 L729.5,933.6 L739.0,930.7 L757.0,925.2 L781.7,919.7 L804.5,914.8 L830.0,909.0 L855.0,903.5 L882.5,899.5 L912.0,895.7 L941.5,890.3 L974.0,887.5 L1006.0,887.0 L1032.0,885.0 L1076.0,885.0 L1103.0,878.5 L1144.5,873.0 L1158.5,890.5 L1194.3,864.6" fill="none" stroke="#0000cc" stroke-width="8.5" stroke-linejoin="round"/>
<path d="M634.10 979.00l-0.18 2.78 -0.53 2.45 -0.87 2.25 -1.19 2.03 -1.49 1.79 -1.76 1.51 -2.01 1.20 -2.22 0.88 -2.42 0.53 -2.74 0.18 -2.74 -0.18 -2.42 -0.53 -2.22 -0.88 -2.01 -1.20 -1.76 -1.51 -1.49 -1.79 -1.19 -2.03 -0.87 -2.25 -0.53 -2.45 -0.18 -2.78 0.18 -2.78 0.53 -2.45 0.87 -2.25 1.19 -2.03 1.49 -1.79 1.76 -1.51 2.01 -1.20 2.22 -0.88 2.42 -0.53 2.74 -0.18 2.74 0.18 2.42 0.53 2.22 0.88 2.01 1.20 1.76 1.51 1.49 1.79 1.19 2.03 0.87 2.25 0.53 2.45z" fill="#0000cc"/>
<path d="M639.55 976.75l-0.18 2.78 -0.53 2.45 -0.87 2.25 -1.19 2.03 -1.49 1.79 -1.76 1.51 -2.01 1.20 -2.22 0.88 -2.42 0.53 -2.74 0.18 -2.74 -0.18 -2.42 -0.53 -2.22 -0.88 -2.01 -1.20 -1.76 -1.51 -1.49 -1.79 -1.19 -2.03 -0.87 -2.25 -0.53 -2.45 -0.18 -2.78 0.18 -2.78 0.53 -2.45 0.87 -2.25 1.19 -2.03 1.49 -1.79 1.76 -1.51 2.01 -1.20 2.22 -0.88 2.42 -0.53 2.74 -0.18 2.74 0.18 2.42 0.53 2.22 0.88 2.01 1.20 1.76 1.51 1.49 1.79 1.19 2.03 0.87 2.25 0.53 2.45z" fill="#0000cc"/>
<path d="M645.00 974.50l-0.18 2.78 -0.53 2.45 -0.87 2.25 -1.19 2.03 -1.49 1.79 -1.76 1.51 -2.01 1.20 -2.22 0.88 -2.42 0.53 -2.74 0.18 -2.74 -0.18 -2.42 -0.53 -2.22 -0.88 -2.01 -1.20 -1.76 -1.51 -1.49 -1.79 -1.19 -2.03 -0.87 -2.25 -0.53 -2.45 -0.18 -2.78 0.18 -2.78 0.53 -2.45 0.87 -2.25 1.19 -2.03 1.49 -1.79 1.76 -1.51 2.01 -1.20 2.22 -0.88 2.42 -0.53 2.74 -0.18 2.74 0.18 2.42 0.53 2.22 0.88 2.01 1.20 1.76 1.51 1.49 1.79 1.19 2.03 0.87 2.25 0.53 2.45z" fill="#0000cc"/>
<path d="M651.10 972.25l-0.18 2.78 -0.53 2.45 -0.87 2.25 -1.19 2.03 -1.49 1.79 -1.76 1.51 -2.01 1.20 -2.22 0.88 -2.42 0.53 -2.74 0.18 -2.74 -0.18 -2.42 -0.53 -2.22 -0.88 -2.01 -1.20 -1.76 -1.51 -1.49 -1.79 -1.19 -2.03 -0.87 -2.25 -0.53 -2.45 -0.18 -2.78 0.18 -2.78 0.53 -2.45 0.87 -2.25 1.19 -2.03 1.49 -1.79 1.76 -1.51 2.01 -1.20 2.22 -0.88 2.42 -0.53 2.74 -0.18 2.74 0.18 2.42 0.53 2.22 0.88 2.01 1.20 1.76 1.51 1.49 1.79 1.19 2.03 0.87 2.25 0.53 2.45z" fill="#0000cc"/>
<path d="M657.20 970.00l-0.18 2.78 -0.53 2.45 -0.87 2.25 -1.19 2.03 -1.49 1.79 -1.76 1.51 -2.01 1.20 -2.22 0.88 -2.42 0.53 -2.74 0.18 -2.74 -0.18 -2.42 -0.53 -2.22 -0.88 -2.01 -1.20 -1.76 -1.51 -1.49 -1.79 -1.19 -2.03 -0.87 -2.25 -0.53 -2.45 -0.18 -2.78 0.18 -2.78 0.53 -2.45 0.87 -2.25 1.19 -2.03 1.49 -1.79 1.76 -1.51 2.01 -1.20 2.22 -0.88 2.42 -0.53 2.74 -0.18 2.74 0.18 2.42 0.53 2.22 0.88 2.01 1.20 1.76 1.51 1.49 1.79 1.19 2.03 0.87 2.25 0.53 2.45z" fill="#0000cc"/>
<path d="M664.05 967.50l-0.18 2.78 -0.53 2.45 -0.87 2.25 -1.19 2.03 -1.49 1.79 -1.76 1.51 -2.01 1.20 -2.22 0.88 -2.42 0.53 -2.74 0.18 -2.74 -0.18 -2.42 -0.53 -2.22 -0.88 -2.01 -1.20 -1.76 -1.51 -1.49 -1.79 -1.19 -2.03 -0.87 -2.25 -0.53 -2.45 -0.18 -2.78 0.18 -2.78 0.53 -2.45 0.87 -2.25 1.19 -2.03 1.49 -1.79 1.76 -1.51 2.01 -1.20 2.22 -0.88 2.42 -0.53 2.74 -0.18 2.74 0.18 2.42 0.53 2.22 0.88 2.01 1.20 1.76 1.51 1.49 1.79 1.19 2.03 0.87 2.25 0.53 2.45z" fill="#0000cc"/>
<path d="M670.90 965.00l-0.18 2.78 -0.53 2.45 -0.87 2.25 -1.19 2.03 -1.49 1.79 -1.76 1.51 -2.01 1.20 -2.22 0.88 -2.42 0.53 -2.74 0.18 -2.74 -0.18 -2.42 -0.53 -2.22 -0.88 -2.01 -1.20 -1.76 -1.51 -1.49 -1.79 -1.19 -2.03 -0.87 -2.25 -0.53 -2.45 -0.18 -2.78 0.18 -2.78 0.53 -2.45 0.87 -2.25 1.19 -2.03 1.49 -1.79 1.76 -1.51 2.01 -1.20 2.22 -0.88 2.42 -0.53 2.74 -0.18 2.74 0.18 2.42 0.53 2.22 0.88 2.01 1.20 1.76 1.51 1.49 1.79 1.19 2.03 0.87 2.25 0.53 2.45z" fill="#0000cc"/>
<path d="M678.65 960.50l-0.18 2.78 -0.53 2.45 -0.87 2.25 -1.19 2.03 -1.49 1.79 -1.76 1.51 -2.01 1.20 -2.22 0.88 -2.42 0.53 -2.74 0.18 -2.74 -0.18 -2.42 -0.53 -2.22 -0.88 -2.01 -1.20 -1.76 -1.51 -1.49 -1.79 -1.19 -2.03 -0.87 -2.25 -0.53 -2.45 -0.18 -2.78 0.18 -2.78 0.53 -2.45 0.87 -2.25 1.19 -2.03 1.49 -1.79 1.76 -1.51 2.01 -1.20 2.22 -0.88 2.42 -0.53 2.74 -0.18 2.74 0.18 2.42 0.53 2.22 0.88 2.01 1.20 1.76 1.51 1.49 1.79 1.19 2.03 0.87 2.25 0.53 2.45z" fill="#0000cc"/>
<path d="M686.40 956.00l-0.18 2.78 -0.53 2.45 -0.87 2.25 -1.19 2.03 -1.49 1.79 -1.76 1.51 -2.01 1.20 -2.22 0.88 -2.42 0.53 -2.74 0.18 -2.74 -0.18 -2.42 -0.53 -2.22 -0.88 -2.01 -1.20 -1.76 -1.51 -1.49 -1.79 -1.19 -2.03 -0.87 -2.25 -0.53 -2.45 -0.18 -2.78 0.18 -2.78 0.53 -2.45 0.87 -2.25 1.19 -2.03 1.49 -1.79 1.76 -1.51 2.01 -1.20 2.22 -0.88 2.42 -0.53 2.74 -0.18 2.74 0.18 2.42 0.53 2.22 0.88 2.01 1.20 1.76 1.51 1.49 1.79 1.19 2.03 0.87 2.25 0.53 2.45z" fill="#0000cc"/>
<path d="M693.90 953.25l-0.18 2.78 -0.53 2.45 -0.87 2.25 -1.19 2.03 -1.49 1.79 -1.76 1.51 -2.01 1.20 -2.22 0.88 -2.42 0.53 -2.74 0.18 -2.74 -0.18 -2.42 -0.53 -2.22 -0.88 -2.01 -1.20 -1.76 -1.51 -1.49 -1.79 -1.19 -2.03 -0.87 -2.25 -0.53 -2.45 -0.18 -2.78 0.18 -2.78 0.53 -2.45 0.87 -2.25 1.19 -2.03 1.49 -1.79 1.76 -1.51 2.01 -1.20 2.22 -0.88 2.42 -0.53 2.74 -0.18 2.74 0.18 2.42 0.53 2.22 0.88 2.01 1.20 1.76 1.51 1.49 1.79 1.19 2.03 0.87 2.25 0.53 2.45z" fill="#0000cc"/>
<path d="M701.40 950.50l-0.18 2.78 -0.53 2.45 -0.87 2.25 -1.19 2.03 -1.49 1.79 -1.76 1.51 -2.01 1.20 -2.22 0.88 -2.42 0.53 -2.74 0.18 -2.74 -0.18 -2.42 -0.53 -2.22 -0.88 -2.01 -1.20 -1.76 -1.51 -1.49 -1.79 -1.19 -2.03 -0.87 -2.25 -0.53 -2.45 -0.18 -2.78 0.18 -2.78 0.53 -2.45 0.87 -2.25 1.19 -2.03 1.49 -1.79 1.76 -1.51 2.01 -1.20 2.22 -0.88 2.42 -0.53 2.74 -0.18 2.74 0.18 2.42 0.53 2.22 0.88 2.01 1.20 1.76 1.51 1.49 1.79 1.19 2.03 0.87 2.25 0.53 2.45z" fill="#0000cc"/>
<path d="M709.40 946.75l-0.18 2.78 -0.53 2.45 -0.87 2.25 -1.19 2.03 -1.49 1.79 -1.76 1.51 -2.01 1.20 -2.22 0.88 -2.42 0.53 -2.74 0.18 -2.74 -0.18 -2.42 -0.53 -2.22 -0.88 -2.01 -1.20 -1.76 -1.51 -1.49 -1.79 -1.19 -2.03 -0.87 -2.25 -0.53 -2.45 -0.18 -2.78 0.18 -2.78 0.53 -2.45 0.87 -2.25 1.19 -2.03 1.49 -1.79 1.76 -1.51 2.01 -1.20 2.22 -0.88 2.42 -0.53 2.74 -0.18 2.74 0.18 2.42 0.53 2.22 0.88 2.01 1.20 1.76 1.51 1.49 1.79 1.19 2.03 0.87 2.25 0.53 2.45z" fill="#0000cc"/>
<path d="M717.40 943.00l-0.18 2.78 -0.53 2.45 -0.87 2.25 -1.19 2.03 -1.49 1.79 -1.76 1.51 -2.01 1.20 -2.22 0.88 -2.42 0.53 -2.74 0.18 -2.74 -0.18 -2.42 -0.53 -2.22 -0.88 -2.01 -1.20 -1.76 -1.51 -1.49 -1.79 -1.19 -2.03 -0.87 -2.25 -0.53 -2.45 -0.18 -2.78 0.18 -2.78 0.53 -2.45 0.87 -2.25 1.19 -2.03 1.49 -1.79 1.76 -1.51 2.01 -1.20 2.22 -0.88 2.42 -0.53 2.74 -0.18 2.74 0.18 2.42 0.53 2.22 0.88 2.01 1.20 1.76 1.51 1.49 1.79 1.19 2.03 0.87 2.25 0.53 2.45z" fill="#0000cc"/>
<path d="M726.40 940.25l-0.18 2.78 -0.53 2.45 -0.87 2.25 -1.19 2.03 -1.49 1.79 -1.76 1.51 -2.01 1.20 -2.22 0.88 -2.42 0.53 -2.74 0.18 -2.74 -0.18 -2.42 -0.53 -2.22 -0.88 -2.01 -1.20 -1.76 -1.51 -1.49 -1.79 -1.19 -2.03 -0.87 -2.25 -0.53 -2.45 -0.18 -2.78 0.18 -2.78 0.53 -2.45 0.87 -2.25 1.19 -2.03 1.49 -1.79 1.76 -1.51 2.01 -1.20 2.22 -0.88 2.42 -0.53 2.74 -0.18 2.74 0.18 2.42 0.53 2.22 0.88 2.01 1.20 1.76 1.51 1.49 1.79 1.19 2.03 0.87 2.25 0.53 2.45z" fill="#0000cc"/>
<path d="M735.40 937.50l-0.18 2.78 -0.53 2.45 -0.87 2.25 -1.19 2.03 -1.49 1.79 -1.76 1.51 -2.01 1.20 -2.22 0.88 -2.42 0.53 -2.74 0.18 -2.74 -0.18 -2.42 -0.53 -2.22 -0.88 -2.01 -1.20 -1.76 -1.51 -1.49 -1.79 -1.19 -2.03 -0.87 -2.25 -0.53 -2.45 -0.18 -2.78 0.18 -2.78 0.53 -2.45 0.87 -2.25 1.19 -2.03 1.49 -1.79 1.76 -1.51 2.01 -1.20 2.22 -0.88 2.42 -0.53 2.74 -0.18 2.74 0.18 2.42 0.53 2.22 0.88 2.01 1.20 1.76 1.51 1.49 1.79 1.19 2.03 0.87 2.25 0.53 2.45z" fill="#0000cc"/>
<path d="M744.90 934.60l-0.18 2.78 -0.53 2.45 -0.87 2.25 -1.19 2.03 -1.49 1.79 -1.76 1.51 -2.01 1.20 -2.22 0.88 -2.42 0.53 -2.74 0.18 -2.74 -0.18 -2.42 -0.53 -2.22 -0.88 -2.01 -1.20 -1.76 -1.51 -1.49 -1.79 -1.19 -2.03 -0.87 -2.25 -0.53 -2.45 -0.18 -2.78 0.18 -2.78 0.53 -2.45 0.87 -2.25 1.19 -2.03 1.49 -1.79 1.76 -1.51 2.01 -1.20 2.22 -0.88 2.42 -0.53 2.74 -0.18 2.74 0.18 2.42 0.53 2.22 0.88 2.01 1.20 1.76 1.51 1.49 1.79 1.19 2.03 0.87 2.25 0.53 2.45z" fill="#0000cc"/>
<path d="M754.40 931.70l-0.18 2.78 -0.53 2.45 -0.87 2.25 -1.19 2.03 -1.49 1.79 -1.76 1.51 -2.01 1.20 -2.22 0.88 -2.42 0.53 -2.74 0.18 -2.74 -0.18 -2.42 -0.53 -2.22 -0.88 -2.01 -1.20 -1.76 -1.51 -1.49 -1.79 -1.19 -2.03 -0.87 -2.25 -0.53 -2.45 -0.18 -2.78 0.18 -2.78 0.53 -2.45 0.87 -2.25 1.19 -2.03 1.49 -1.79 1.76 -1.51 2.01 -1.20 2.22 -0.88 2.42 -0.53 2.74 -0.18 2.74 0.18 2.42 0.53 2.22 0.88 2.01 1.20 1.76 1.51 1.49 1.79 1.19 2.03 0.87 2.25 0.53 2.45z" fill="#0000cc"/>
<path d="M772.40 926.20l-0.18 2.78 -0.53 2.45 -0.87 2.25 -1.19 2.03 -1.49 1.79 -1.76 1.51 -2.01 1.20 -2.22 0.88 -2.42 0.53 -2.74 0.18 -2.74 -0.18 -2.42 -0.53 -2.22 -0.88 -2.01 -1.20 -1.76 -1.51 -1.49 -1.79 -1.19 -2.03 -0.87 -2.25 -0.53 -2.45 -0.18 -2.78 0.18 -2.78 0.53 -2.45 0.87 -2.25 1.19 -2.03 1.49 -1.79 1.76 -1.51 2.01 -1.20 2.22 -0.88 2.42 -0.53 2.74 -0.18 2.74 0.18 2.42 0.53 2.22 0.88 2.01 1.20 1.76 1.51 1.49 1.79 1.19 2.03 0.87 2.25 0.53 2.45z" fill="#0000cc"/>
<path d="M797.10 920.70l-0.18 2.78 -0.53 2.45 -0.87 2.25 -1.19 2.03 -1.49 1.79 -1.76 1.51 -2.01 1.20 -2.22 0.88 -2.42 0.53 -2.74 0.18 -2.74 -0.18 -2.42 -0.53 -2.22 -0.88 -2.01 -1.20 -1.76 -1.51 -1.49 -1.79 -1.19 -2.03 -0.87 -2.25 -0.53 -2.45 -0.18 -2.78 0.18 -2.78 0.53 -2.45 0.87 -2.25 1.19 -2.03 1.49 -1.79 1.76 -1.51 2.01 -1.20 2.22 -0.88 2.42 -0.53 2.74 -0.18 2.74 0.18 2.42 0.53 2.22 0.88 2.01 1.20 1.76 1.51 1.49 1.79 1.19 2.03 0.87 2.25 0.53 2.45z" fill="#0000cc"/>
<path d="M819.90 915.80l-0.18 2.78 -0.53 2.45 -0.87 2.25 -1.19 2.03 -1.49 1.79 -1.76 1.51 -2.01 1.20 -2.22 0.88 -2.42 0.53 -2.74 0.18 -2.74 -0.18 -2.42 -0.53 -2.22 -0.88 -2.01 -1.20 -1.76 -1.51 -1.49 -1.79 -1.19 -2.03 -0.87 -2.25 -0.53 -2.45 -0.18 -2.78 0.18 -2.78 0.53 -2.45 0.87 -2.25 1.19 -2.03 1.49 -1.79 1.76 -1.51 2.01 -1.20 2.22 -0.88 2.42 -0.53 2.74 -0.18 2.74 0.18 2.42 0.53 2.22 0.88 2.01 1.20 1.76 1.51 1.49 1.79 1.19 2.03 0.87 2.25 0.53 2.45z" fill="#0000cc"/>
<path d="M845.40 910.00l-0.18 2.78 -0.53 2.45 -0.87 2.25 -1.19 2.03 -1.49 1.79 -1.76 1.51 -2.01 1.20 -2.22 0.88 -2.42 0.53 -2.74 0.18 -2.74 -0.18 -2.42 -0.53 -2.22 -0.88 -2.01 -1.20 -1.76 -1.51 -1.49 -1.79 -1.19 -2.03 -0.87 -2.25 -0.53 -2.45 -0.18 -2.78 0.18 -2.78 0.53 -2.45 0.87 -2.25 1.19 -2.03 1.49 -1.79 1.76 -1.51 2.01 -1.20 2.22 -0.88 2.42 -0.53 2.74 -0.18 2.74 0.18 2.42 0.53 2.22 0.88 2.01 1.20 1.76 1.51 1.49 1.79 1.19 2.03 0.87 2.25 0.53 2.45z" fill="#0000cc"/>
<path d="M870.40 904.50l-0.18 2.78 -0.53 2.45 -0.87 2.25 -1.19 2.03 -1.49 1.79 -1.76 1.51 -2.01 1.20 -2.22 0.88 -2.42 0.53 -2.74 0.18 -2.74 -0.18 -2.42 -0.53 -2.22 -0.88 -2.01 -1.20 -1.76 -1.51 -1.49 -1.79 -1.19 -2.03 -0.87 -2.25 -0.53 -2.45 -0.18 -2.78 0.18 -2.78 0.53 -2.45 0.87 -2.25 1.19 -2.03 1.49 -1.79 1.76 -1.51 2.01 -1.20 2.22 -0.88 2.42 -0.53 2.74 -0.18 2.74 0.18 2.42 0.53 2.22 0.88 2.01 1.20 1.76 1.51 1.49 1.79 1.19 2.03 0.87 2.25 0.53 2.45z" fill="#0000cc"/>
<path d="M897.90 900.50l-0.18 2.78 -0.53 2.45 -0.87 2.25 -1.19 2.03 -1.49 1.79 -1.76 1.51 -2.01 1.20 -2.22 0.88 -2.42 0.53 -2.74 0.18 -2.74 -0.18 -2.42 -0.53 -2.22 -0.88 -2.01 -1.20 -1.76 -1.51 -1.49 -1.79 -1.19 -2.03 -0.87 -2.25 -0.53 -2.45 -0.18 -2.78 0.18 -2.78 0.53 -2.45 0.87 -2.25 1.19 -2.03 1.49 -1.79 1.76 -1.51 2.01 -1.20 2.22 -0.88 2.42 -0.53 2.74 -0.18 2.74 0.18 2.42 0.53 2.22 0.88 2.01 1.20 1.76 1.51 1.49 1.79 1.19 2.03 0.87 2.25 0.53 2.45z" fill="#0000cc"/>
<path d="M927.40 896.70l-0.18 2.78 -0.53 2.45 -0.87 2.25 -1.19 2.03 -1.49 1.79 -1.76 1.51 -2.01 1.20 -2.22 0.88 -2.42 0.53 -2.74 0.18 -2.74 -0.18 -2.42 -0.53 -2.22 -0.88 -2.01 -1.20 -1.76 -1.51 -1.49 -1.79 -1.19 -2.03 -0.87 -2.25 -0.53 -2.45 -0.18 -2.78 0.18 -2.78 0.53 -2.45 0.87 -2.25 1.19 -2.03 1.49 -1.79 1.76 -1.51 2.01 -1.20 2.22 -0.88 2.42 -0.53 2.74 -0.18 2.74 0.18 2.42 0.53 2.22 0.88 2.01 1.20 1.76 1.51 1.49 1.79 1.19 2.03 0.87 2.25 0.53 2.45z" fill="#0000cc"/>
<path d="M956.90 891.30l-0.18 2.78 -0.53 2.45 -0.87 2.25 -1.19 2.03 -1.49 1.79 -1.76 1.51 -2.01 1.20 -2.22 0.88 -2.42 0.53 -2.74 0.18 -2.74 -0.18 -2.42 -0.53 -2.22 -0.88 -2.01 -1.20 -1.76 -1.51 -1.49 -1.79 -1.19 -2.03 -0.87 -2.25 -0.53 -2.45 -0.18 -2.78 0.18 -2.78 0.53 -2.45 0.87 -2.25 1.19 -2.03 1.49 -1.79 1.76 -1.51 2.01 -1.20 2.22 -0.88 2.42 -0.53 2.74 -0.18 2.74 0.18 2.42 0.53 2.22 0.88 2.01 1.20 1.76 1.51 1.49 1.79 1.19 2.03 0.87 2.25 0.53 2.45z" fill="#0000cc"/>
<path d="M989.40 888.50l-0.18 2.78 -0.53 2.45 -0.87 2.25 -1.19 2.03 -1.49 1.79 -1.76 1.51 -2.01 1.20 -2.22 0.88 -2.42 0.53 -2.74 0.18 -2.74 -0.18 -2.42 -0.53 -2.22 -0.88 -2.01 -1.20 -1.76 -1.51 -1.49 -1.79 -1.19 -2.03 -0.87 -2.25 -0.53 -2.45 -0.18 -2.78 0.18 -2.78 0.53 -2.45 0.87 -2.25 1.19 -2.03 1.49 -1.79 1.76 -1.51 2.01 -1.20 2.22 -0.88 2.42 -0.53 2.74 -0.18 2.74 0.18 2.42 0.53 2.22 0.88 2.01 1.20 1.76 1.51 1.49 1.79 1.19 2.03 0.87 2.25 0.53 2.45z" fill="#0000cc"/>
<path d="M1021.40 888.00l-0.18 2.78 -0.53 2.45 -0.87 2.25 -1.19 2.03 -1.49 1.79 -1.76 1.51 -2.01 1.20 -2.22 0.88 -2.42 0.53 -2.74 0.18 -2.74 -0.18 -2.42 -0.53 -2.22 -0.88 -2.01 -1.20 -1.76 -1.51 -1.49 -1.79 -1.19 -2.03 -0.87 -2.25 -0.53 -2.45 -0.18 -2.78 0.18 -2.78 0.53 -2.45 0.87 -2.25 1.19 -2.03 1.49 -1.79 1.76 -1.51 2.01 -1.20 2.22 -0.88 2.42 -0.53 2.74 -0.18 2.74 0.18 2.42 0.53 2.22 0.88 2.01 1.20 1.76 1.51 1.49 1.79 1.19 2.03 0.87 2.25 0.53 2.45z" fill="#0000cc"/>
<path d="M1047.40 886.00l-0.18 2.78 -0.53 2.45 -0.87 2.25 -1.19 2.03 -1.49 1.79 -1.76 1.51 -2.01 1.20 -2.22 0.88 -2.42 0.53 -2.74 0.18 -2.74 -0.18 -2.42 -0.53 -2.22 -0.88 -2.01 -1.20 -1.76 -1.51 -1.49 -1.79 -1.19 -2.03 -0.87 -2.25 -0.53 -2.45 -0.18 -2.78 0.18 -2.78 0.53 -2.45 0.87 -2.25 1.19 -2.03 1.49 -1.79 1.76 -1.51 2.01 -1.20 2.22 -0.88 2.42 -0.53 2.74 -0.18 2.74 0.18 2.42 0.53 2.22 0.88 2.01 1.20 1.76 1.51 1.49 1.79 1.19 2.03 0.87 2.25 0.53 2.45z" fill="#0000cc"/>
<path d="M1091.40 886.00l-0.18 2.78 -0.53 2.45 -0.87 2.25 -1.19 2.03 -1.49 1.79 -1.76 1.51 -2.01 1.20 -2.22 0.88 -2.42 0.53 -2.74 0.18 -2.74 -0.18 -2.42 -0.53 -2.22 -0.88 -2.01 -1.20 -1.76 -1.51 -1.49 -1.79 -1.19 -2.03 -0.87 -2.25 -0.53 -2.45 -0.18 -2.78 0.18 -2.78 0.53 -2.45 0.87 -2.25 1.19 -2.03 1.49 -1.79 1.76 -1.51 2.01 -1.20 2.22 -0.88 2.42 -0.53 2.74 -0.18 2.74 0.18 2.42 0.53 2.22 0.88 2.01 1.20 1.76 1.51 1.49 1.79 1.19 2.03 0.87 2.25 0.53 2.45z" fill="#0000cc"/>
<path d="M1118.40 879.50l-0.18 2.78 -0.53 2.45 -0.87 2.25 -1.19 2.03 -1.49 1.79 -1.76 1.51 -2.01 1.20 -2.22 0.88 -2.42 0.53 -2.74 0.18 -2.74 -0.18 -2.42 -0.53 -2.22 -0.88 -2.01 -1.20 -1.76 -1.51 -1.49 -1.79 -1.19 -2.03 -0.87 -2.25 -0.53 -2.45 -0.18 -2.78 0.18 -2.78 0.53 -2.45 0.87 -2.25 1.19 -2.03 1.49 -1.79 1.76 -1.51 2.01 -1.20 2.22 -0.88 2.42 -0.53 2.74 -0.18 2.74 0.18 2.42 0.53 2.22 0.88 2.01 1.20 1.76 1.51 1.49 1.79 1.19 2.03 0.87 2.25 0.53 2.45z" fill="#0000cc"/>
<path d="M1159.90 874.00l-0.18 2.78 -0.53 2.45 -0.87 2.25 -1.19 2.03 -1.49 1.79 -1.76 1.51 -2.01 1.20 -2.22 0.88 -2.42 0.53 -2.74 0.18 -2.74 -0.18 -2.42 -0.53 -2.22 -0.88 -2.01 -1.20 -1.76 -1.51 -1.49 -1.79 -1.19 -2.03 -0.87 -2.25 -0.53 -2.45 -0.18 -2.78 0.18 -2.78 0.53 -2.45 0.87 -2.25 1.19 -2.03 1.49 -1.79 1.76 -1.51 2.01 -1.20 2.22 -0.88 2.42 -0.53 2.74 -0.18 2.74 0.18 2.42 0.53 2.22 0.88 2.01 1.20 1.76 1.51 1.49 1.79 1.19 2.03 0.87 2.25 0.53 2.45z" fill="#0000cc"/>
<path d="M1173.90 891.50l-0.18 2.78 -0.53 2.45 -0.87 2.25 -1.19 2.03 -1.49 1.79 -1.76 1.51 -2.01 1.20 -2.22 0.88 -2.42 0.53 -2.74 0.18 -2.74 -0.18 -2.42 -0.53 -2.22 -0.88 -2.01 -1.20 -1.76 -1.51 -1.49 -1.79 -1.19 -2.03 -0.87 -2.25 -0.53 -2.45 -0.18 -2.78 0.18 -2.78 0.53 -2.45 0.87 -2.25 1.19 -2.03 1.49 -1.79 1.76 -1.51 2.01 -1.20 2.22 -0.88 2.42 -0.53 2.74 -0.18 2.74 0.18 2.42 0.53 2.22 0.88 2.01 1.20 1.76 1.51 1.49 1.79 1.19 2.03 0.87 2.25 0.53 2.45z" fill="#0000cc"/>
<path d="M1209.70 865.60l-0.18 2.78 -0.53 2.45 -0.87 2.25 -1.19 2.03 -1.49 1.79 -1.76 1.51 -2.01 1.20 -2.22 0.88 -2.42 0.53 -2.74 0.18 -2.74 -0.18 -2.42 -0.53 -2.22 -0.88 -2.01 -1.20 -1.76 -1.51 -1.49 -1.79 -1.19 -2.03 -0.87 -2.25 -0.53 -2.45 -0.18 -2.78 0.18 -2.78 0.53 -2.45 0.87 -2.25 1.19 -2.03 1.49 -1.79 1.76 -1.51 2.01 -1.20 2.22 -0.88 2.42 -0.53 2.74 -0.18 2.74 0.18 2.42 0.53 2.22 0.88 2.01 1.20 1.76 1.51 1.49 1.79 1.19 2.03 0.87 2.25 0.53 2.45z" fill="#0000cc"/>
<path d="M639.2,965.0 L644.4,961.8 L649.5,958.5 L655.0,956.8 L660.5,955.0 L666.5,953.0 L672.5,950.9 L678.8,948.6 L685.0,946.3 L691.8,943.9 L698.5,941.5 L705.8,939.1 L713.0,936.7 L720.8,933.5 L728.5,930.4 L745.5,924.8 L764.0,919.7 L784.0,914.5 L805.0,909.0 L832.0,903.5 L857.0,898.0 L883.5,895.0 L911.0,892.0 L940.0,888.3 L968.6,884.5 L1000.5,884.5 L1028.0,882.0 L1064.5,881.0 L1095.0,884.0 L1130.5,879.0 L1186.0,887.5 L1193.5,879.0 L1233.6,881.8 L1291.0,888.4 L1340.0,886.5 L1397.6,903.0" fill="none" stroke="#009900" stroke-width="8.5" stroke-linejoin="round"/>
<path d="M654.60 966.00l-0.18 2.78 -0.53 2.45 -0.87 2.25 -1.19 2.03 -1.49 1.79 -1.76 1.51 -2.01 1.20 -2.22 0.88 -2.42 0.53 -2.74 0.18 -2.74 -0.18 -2.42 -0.53 -2.22 -0.88 -2.01 -1.20 -1.76 -1.51 -1.49 -1.79 -1.19 -2.03 -0.87 -2.25 -0.53 -2.45 -0.18 -2.78 0.18 -2.78 0.53 -2.45 0.87 -2.25 1.19 -2.03 1.49 -1.79 1.76 -1.51 2.01 -1.20 2.22 -0.88 2.42 -0.53 2.74 -0.18 2.74 0.18 2.42 0.53 2.22 0.88 2.01 1.20 1.76 1.51 1.49 1.79 1.19 2.03 0.87 2.25 0.53 2.45z" fill="#009900"/>
<path d="M659.75 962.75l-0.18 2.78 -0.53 2.45 -0.87 2.25 -1.19 2.03 -1.49 1.79 -1.76 1.51 -2.01 1.20 -2.22 0.88 -2.42 0.53 -2.74 0.18 -2.74 -0.18 -2.42 -0.53 -2.22 -0.88 -2.01 -1.20 -1.76 -1.51 -1.49 -1.79 -1.19 -2.03 -0.87 -2.25 -0.53 -2.45 -0.18 -2.78 0.18 -2.78 0.53 -2.45 0.87 -2.25 1.19 -2.03 1.49 -1.79 1.76 -1.51 2.01 -1.20 2.22 -0.88 2.42 -0.53 2.74 -0.18 2.74 0.18 2.42 0.53 2.22 0.88 2.01 1.20 1.76 1.51 1.49 1.79 1.19 2.03 0.87 2.25 0.53 2.45z" fill="#009900"/>
<path d="M664.90 959.50l-0.18 2.78 -0.53 2.45 -0.87 2.25 -1.19 2.03 -1.49 1.79 -1.76 1.51 -2.01 1.20 -2.22 0.88 -2.42 0.53 -2.74 0.18 -2.74 -0.18 -2.42 -0.53 -2.22 -0.88 -2.01 -1.20 -1.76 -1.51 -1.49 -1.79 -1.19 -2.03 -0.87 -2.25 -0.53 -2.45 -0.18 -2.78 0.18 -2.78 0.53 -2.45 0.87 -2.25 1.19 -2.03 1.49 -1.79 1.76 -1.51 2.01 -1.20 2.22 -0.88 2.42 -0.53 2.74 -0.18 2.74 0.18 2.42 0.53 2.22 0.88 2.01 1.20 1.76 1.51 1.49 1.79 1.19 2.03 0.87 2.25 0.53 2.45z" fill="#009900"/>
<path d="M670.40 957.77l-0.18 2.78 -0.53 2.45 -0.87 2.25 -1.19 2.03 -1.49 1.79 -1.76 1.51 -2.01 1.20 -2.22 0.88 -2.42 0.53 -2.74 0.18 -2.74 -0.18 -2.42 -0.53 -2.22 -0.88 -2.01 -1.20 -1.76 -1.51 -1.49 -1.79 -1.19 -2.03 -0.87 -2.25 -0.53 -2.45 -0.18 -2.78 0.18 -2.78 0.53 -2.45 0.87 -2.25 1.19 -2.03 1.49 -1.79 1.76 -1.51 2.01 -1.20 2.22 -0.88 2.42 -0.53 2.74 -0.18 2.74 0.18 2.42 0.53 2.22 0.88 2.01 1.20 1.76 1.51 1.49 1.79 1.19 2.03 0.87 2.25 0.53 2.45z" fill="#009900"/>
<path d="M675.90 956.04l-0.18 2.78 -0.53 2.45 -0.87 2.25 -1.19 2.03 -1.49 1.79 -1.76 1.51 -2.01 1.20 -2.22 0.88 -2.42 0.53 -2.74 0.18 -2.74 -0.18 -2.42 -0.53 -2.22 -0.88 -2.01 -1.20 -1.76 -1.51 -1.49 -1.79 -1.19 -2.03 -0.87 -2.25 -0.53 -2.45 -0.18 -2.78 0.18 -2.78 0.53 -2.45 0.87 -2.25 1.19 -2.03 1.49 -1.79 1.76 -1.51 2.01 -1.20 2.22 -0.88 2.42 -0.53 2.74 -0.18 2.74 0.18 2.42 0.53 2.22 0.88 2.01 1.20 1.76 1.51 1.49 1.79 1.19 2.03 0.87 2.25 0.53 2.45z" fill="#009900"/>
<path d="M681.90 953.96l-0.18 2.78 -0.53 2.45 -0.87 2.25 -1.19 2.03 -1.49 1.79 -1.76 1.51 -2.01 1.20 -2.22 0.88 -2.42 0.53 -2.74 0.18 -2.74 -0.18 -2.42 -0.53 -2.22 -0.88 -2.01 -1.20 -1.76 -1.51 -1.49 -1.79 -1.19 -2.03 -0.87 -2.25 -0.53 -2.45 -0.18 -2.78 0.18 -2.78 0.53 -2.45 0.87 -2.25 1.19 -2.03 1.49 -1.79 1.76 -1.51 2.01 -1.20 2.22 -0.88 2.42 -0.53 2.74 -0.18 2.74 0.18 2.42 0.53 2.22 0.88 2.01 1.20 1.76 1.51 1.49 1.79 1.19 2.03 0.87 2.25 0.53 2.45z" fill="#009900"/>
<path d="M687.90 951.89l-0.18 2.78 -0.53 2.45 -0.87 2.25 -1.19 2.03 -1.49 1.79 -1.76 1.51 -2.01 1.20 -2.22 0.88 -2.42 0.53 -2.74 0.18 -2.74 -0.18 -2.42 -0.53 -2.22 -0.88 -2.01 -1.20 -1.76 -1.51 -1.49 -1.79 -1.19 -2.03 -0.87 -2.25 -0.53 -2.45 -0.18 -2.78 0.18 -2.78 0.53 -2.45 0.87 -2.25 1.19 -2.03 1.49 -1.79 1.76 -1.51 2.01 -1.20 2.22 -0.88 2.42 -0.53 2.74 -0.18 2.74 0.18 2.42 0.53 2.22 0.88 2.01 1.20 1.76 1.51 1.49 1.79 1.19 2.03 0.87 2.25 0.53 2.45z" fill="#009900"/>
<path d="M694.15 949.61l-0.18 2.78 -0.53 2.45 -0.87 2.25 -1.19 2.03 -1.49 1.79 -1.76 1.51 -2.01 1.20 -2.22 0.88 -2.42 0.53 -2.74 0.18 -2.74 -0.18 -2.42 -0.53 -2.22 -0.88 -2.01 -1.20 -1.76 -1.51 -1.49 -1.79 -1.19 -2.03 -0.87 -2.25 -0.53 -2.45 -0.18 -2.78 0.18 -2.78 0.53 -2.45 0.87 -2.25 1.19 -2.03 1.49 -1.79 1.76 -1.51 2.01 -1.20 2.22 -0.88 2.42 -0.53 2.74 -0.18 2.74 0.18 2.42 0.53 2.22 0.88 2.01 1.20 1.76 1.51 1.49 1.79 1.19 2.03 0.87 2.25 0.53 2.45z" fill="#009900"/>
<path d="M700.40 947.33l-0.18 2.78 -0.53 2.45 -0.87 2.25 -1.19 2.03 -1.49 1.79 -1.76 1.51 -2.01 1.20 -2.22 0.88 -2.42 0.53 -2.74 0.18 -2.74 -0.18 -2.42 -0.53 -2.22 -0.88 -2.01 -1.20 -1.76 -1.51 -1.49 -1.79 -1.19 -2.03 -0.87 -2.25 -0.53 -2.45 -0.18 -2.78 0.18 -2.78 0.53 -2.45 0.87 -2.25 1.19 -2.03 1.49 -1.79 1.76 -1.51 2.01 -1.20 2.22 -0.88 2.42 -0.53 2.74 -0.18 2.74 0.18 2.42 0.53 2.22 0.88 2.01 1.20 1.76 1.51 1.49 1.79 1.19 2.03 0.87 2.25 0.53 2.45z" fill="#009900"/>
<path d="M707.15 944.93l-0.18 2.78 -0.53 2.45 -0.87 2.25 -1.19 2.03 -1.49 1.79 -1.76 1.51 -2.01 1.20 -2.22 0.88 -2.42 0.53 -2.74 0.18 -2.74 -0.18 -2.42 -0.53 -2.22 -0.88 -2.01 -1.20 -1.76 -1.51 -1.49 -1.79 -1.19 -2.03 -0.87 -2.25 -0.53 -2.45 -0.18 -2.78 0.18 -2.78 0.53 -2.45 0.87 -2.25 1.19 -2.03 1.49 -1.79 1.76 -1.51 2.01 -1.20 2.22 -0.88 2.42 -0.53 2.74 -0.18 2.74 0.18 2.42 0.53 2.22 0.88 2.01 1.20 1.76 1.51 1.49 1.79 1.19 2.03 0.87 2.25 0.53 2.45z" fill="#009900"/>
<path d="M713.90 942.53l-0.18 2.78 -0.53 2.45 -0.87 2.25 -1.19 2.03 -1.49 1.79 -1.76 1.51 -2.01 1.20 -2.22 0.88 -2.42 0.53 -2.74 0.18 -2.74 -0.18 -2.42 -0.53 -2.22 -0.88 -2.01 -1.20 -1.76 -1.51 -1.49 -1.79 -1.19 -2.03 -0.87 -2.25 -0.53 -2.45 -0.18 -2.78 0.18 -2.78 0.53 -2.45 0.87 -2.25 1.19 -2.03 1.49 -1.79 1.76 -1.51 2.01 -1.20 2.22 -0.88 2.42 -0.53 2.74 -0.18 2.74 0.18 2.42 0.53 2.22 0.88 2.01 1.20 1.76 1.51 1.49 1.79 1.19 2.03 0.87 2.25 0.53 2.45z" fill="#009900"/>
<path d="M721.15 940.11l-0.18 2.78 -0.53 2.45 -0.87 2.25 -1.19 2.03 -1.49 1.79 -1.76 1.51 -2.01 1.20 -2.22 0.88 -2.42 0.53 -2.74 0.18 -2.74 -0.18 -2.42 -0.53 -2.22 -0.88 -2.01 -1.20 -1.76 -1.51 -1.49 -1.79 -1.19 -2.03 -0.87 -2.25 -0.53 -2.45 -0.18 -2.78 0.18 -2.78 0.53 -2.45 0.87 -2.25 1.19 -2.03 1.49 -1.79 1.76 -1.51 2.01 -1.20 2.22 -0.88 2.42 -0.53 2.74 -0.18 2.74 0.18 2.42 0.53 2.22 0.88 2.01 1.20 1.76 1.51 1.49 1.79 1.19 2.03 0.87 2.25 0.53 2.45z" fill="#009900"/>
<path d="M728.40 937.68l-0.18 2.78 -0.53 2.45 -0.87 2.25 -1.19 2.03 -1.49 1.79 -1.76 1.51 -2.01 1.20 -2.22 0.88 -2.42 0.53 -2.74 0.18 -2.74 -0.18 -2.42 -0.53 -2.22 -0.88 -2.01 -1.20 -1.76 -1.51 -1.49 -1.79 -1.19 -2.03 -0.87 -2.25 -0.53 -2.45 -0.18 -2.78 0.18 -2.78 0.53 -2.45 0.87 -2.25 1.19 -2.03 1.49 -1.79 1.76 -1.51 2.01 -1.20 2.22 -0.88 2.42 -0.53 2.74 -0.18 2.74 0.18 2.42 0.53 2.22 0.88 2.01 1.20 1.76 1.51 1.49 1.79 1.19 2.03 0.87 2.25 0.53 2.45z" fill="#009900"/>
<path d="M736.15 934.54l-0.18 2.78 -0.53 2.45 -0.87 2.25 -1.19 2.03 -1.49 1.79 -1.76 1.51 -2.01 1.20 -2.22 0.88 -2.42 0.53 -2.74 0.18 -2.74 -0.18 -2.42 -0.53 -2.22 -0.88 -2.01 -1.20 -1.76 -1.51 -1.49 -1.79 -1.19 -2.03 -0.87 -2.25 -0.53 -2.45 -0.18 -2.78 0.18 -2.78 0.53 -2.45 0.87 -2.25 1.19 -2.03 1.49 -1.79 1.76 -1.51 2.01 -1.20 2.22 -0.88 2.42 -0.53 2.74 -0.18 2.74 0.18 2.42 0.53 2.22 0.88 2.01 1.20 1.76 1.51 1.49 1.79 1.19 2.03 0.87 2.25 0.53 2.45z" fill="#009900"/>
<path d="M743.90 931.39l-0.18 2.78 -0.53 2.45 -0.87 2.25 -1.19 2.03 -1.49 1.79 -1.76 1.51 -2.01 1.20 -2.22 0.88 -2.42 0.53 -2.74 0.18 -2.74 -0.18 -2.42 -0.53 -2.22 -0.88 -2.01 -1.20 -1.76 -1.51 -1.49 -1.79 -1.19 -2.03 -0.87 -2.25 -0.53 -2.45 -0.18 -2.78 0.18 -2.78 0.53 -2.45 0.87 -2.25 1.19 -2.03 1.49 -1.79 1.76 -1.51 2.01 -1.20 2.22 -0.88 2.42 -0.53 2.74 -0.18 2.74 0.18 2.42 0.53 2.22 0.88 2.01 1.20 1.76 1.51 1.49 1.79 1.19 2.03 0.87 2.25 0.53 2.45z" fill="#009900"/>
<path d="M760.90 925.76l-0.18 2.78 -0.53 2.45 -0.87 2.25 -1.19 2.03 -1.49 1.79 -1.76 1.51 -2.01 1.20 -2.22 0.88 -2.42 0.53 -2.74 0.18 -2.74 -0.18 -2.42 -0.53 -2.22 -0.88 -2.01 -1.20 -1.76 -1.51 -1.49 -1.79 -1.19 -2.03 -0.87 -2.25 -0.53 -2.45 -0.18 -2.78 0.18 -2.78 0.53 -2.45 0.87 -2.25 1.19 -2.03 1.49 -1.79 1.76 -1.51 2.01 -1.20 2.22 -0.88 2.42 -0.53 2.74 -0.18 2.74 0.18 2.42 0.53 2.22 0.88 2.01 1.20 1.76 1.51 1.49 1.79 1.19 2.03 0.87 2.25 0.53 2.45z" fill="#009900"/>
<path d="M779.40 920.65l-0.18 2.78 -0.53 2.45 -0.87 2.25 -1.19 2.03 -1.49 1.79 -1.76 1.51 -2.01 1.20 -2.22 0.88 -2.42 0.53 -2.74 0.18 -2.74 -0.18 -2.42 -0.53 -2.22 -0.88 -2.01 -1.20 -1.76 -1.51 -1.49 -1.79 -1.19 -2.03 -0.87 -2.25 -0.53 -2.45 -0.18 -2.78 0.18 -2.78 0.53 -2.45 0.87 -2.25 1.19 -2.03 1.49 -1.79 1.76 -1.51 2.01 -1.20 2.22 -0.88 2.42 -0.53 2.74 -0.18 2.74 0.18 2.42 0.53 2.22 0.88 2.01 1.20 1.76 1.51 1.49 1.79 1.19 2.03 0.87 2.25 0.53 2.45z" fill="#009900"/>
<path d="M799.40 915.50l-0.18 2.78 -0.53 2.45 -0.87 2.25 -1.19 2.03 -1.49 1.79 -1.76 1.51 -2.01 1.20 -2.22 0.88 -2.42 0.53 -2.74 0.18 -2.74 -0.18 -2.42 -0.53 -2.22 -0.88 -2.01 -1.20 -1.76 -1.51 -1.49 -1.79 -1.19 -2.03 -0.87 -2.25 -0.53 -2.45 -0.18 -2.78 0.18 -2.78 0.53 -2.45 0.87 -2.25 1.19 -2.03 1.49 -1.79 1.76 -1.51 2.01 -1.20 2.22 -0.88 2.42 -0.53 2.74 -0.18 2.74 0.18 2.42 0.53 2.22 0.88 2.01 1.20 1.76 1.51 1.49 1.79 1.19 2.03 0.87 2.25 0.53 2.45z" fill="#009900"/>
<path d="M820.40 910.00l-0.18 2.78 -0.53 2.45 -0.87 2.25 -1.19 2.03 -1.49 1.79 -1.76 1.51 -2.01 1.20 -2.22 0.88 -2.42 0.53 -2.74 0.18 -2.74 -0.18 -2.42 -0.53 -2.22 -0.88 -2.01 -1.20 -1.76 -1.51 -1.49 -1.79 -1.19 -2.03 -0.87 -2.25 -0.53 -2.45 -0.18 -2.78 0.18 -2.78 0.53 -2.45 0.87 -2.25 1.19 -2.03 1.49 -1.79 1.76 -1.51 2.01 -1.20 2.22 -0.88 2.42 -0.53 2.74 -0.18 2.74 0.18 2.42 0.53 2.22 0.88 2.01 1.20 1.76 1.51 1.49 1.79 1.19 2.03 0.87 2.25 0.53 2.45z" fill="#009900"/>
<path d="M847.40 904.50l-0.18 2.78 -0.53 2.45 -0.87 2.25 -1.19 2.03 -1.49 1.79 -1.76 1.51 -2.01 1.20 -2.22 0.88 -2.42 0.53 -2.74 0.18 -2.74 -0.18 -2.42 -0.53 -2.22 -0.88 -2.01 -1.20 -1.76 -1.51 -1.49 -1.79 -1.19 -2.03 -0.87 -2.25 -0.53 -2.45 -0.18 -2.78 0.18 -2.78 0.53 -2.45 0.87 -2.25 1.19 -2.03 1.49 -1.79 1.76 -1.51 2.01 -1.20 2.22 -0.88 2.42 -0.53 2.74 -0.18 2.74 0.18 2.42 0.53 2.22 0.88 2.01 1.20 1.76 1.51 1.49 1.79 1.19 2.03 0.87 2.25 0.53 2.45z" fill="#009900"/>
<path d="M872.40 899.00l-0.18 2.78 -0.53 2.45 -0.87 2.25 -1.19 2.03 -1.49 1.79 -1.76 1.51 -2.01 1.20 -2.22 0.88 -2.42 0.53 -2.74 0.18 -2.74 -0.18 -2.42 -0.53 -2.22 -0.88 -2.01 -1.20 -1.76 -1.51 -1.49 -1.79 -1.19 -2.03 -0.87 -2.25 -0.53 -2.45 -0.18 -2.78 0.18 -2.78 0.53 -2.45 0.87 -2.25 1.19 -2.03 1.49 -1.79 1.76 -1.51 2.01 -1.20 2.22 -0.88 2.42 -0.53 2.74 -0.18 2.74 0.18 2.42 0.53 2.22 0.88 2.01 1.20 1.76 1.51 1.49 1.79 1.19 2.03 0.87 2.25 0.53 2.45z" fill="#009900"/>
<path d="M898.90 896.00l-0.18 2.78 -0.53 2.45 -0.87 2.25 -1.19 2.03 -1.49 1.79 -1.76 1.51 -2.01 1.20 -2.22 0.88 -2.42 0.53 -2.74 0.18 -2.74 -0.18 -2.42 -0.53 -2.22 -0.88 -2.01 -1.20 -1.76 -1.51 -1.49 -1.79 -1.19 -2.03 -0.87 -2.25 -0.53 -2.45 -0.18 -2.78 0.18 -2.78 0.53 -2.45 0.87 -2.25 1.19 -2.03 1.49 -1.79 1.76 -1.51 2.01 -1.20 2.22 -0.88 2.42 -0.53 2.74 -0.18 2.74 0.18 2.42 0.53 2.22 0.88 2.01 1.20 1.76 1.51 1.49 1.79 1.19 2.03 0.87 2.25 0.53 2.45z" fill="#009900"/>
<path d="M926.40 893.00l-0.18 2.78 -0.53 2.45 -0.87 2.25 -1.19 2.03 -1.49 1.79 -1.76 1.51 -2.01 1.20 -2.22 0.88 -2.42 0.53 -2.74 0.18 -2.74 -0.18 -2.42 -0.53 -2.22 -0.88 -2.01 -1.20 -1.76 -1.51 -1.49 -1.79 -1.19 -2.03 -0.87 -2.25 -0.53 -2.45 -0.18 -2.78 0.18 -2.78 0.53 -2.45 0.87 -2.25 1.19 -2.03 1.49 -1.79 1.76 -1.51 2.01 -1.20 2.22 -0.88 2.42 -0.53 2.74 -0.18 2.74 0.18 2.42 0.53 2.22 0.88 2.01 1.20 1.76 1.51 1.49 1.79 1.19 2.03 0.87 2.25 0.53 2.45z" fill="#009900"/>
<path d="M955.40 889.30l-0.18 2.78 -0.53 2.45 -0.87 2.25 -1.19 2.03 -1.49 1.79 -1.76 1.51 -2.01 1.20 -2.22 0.88 -2.42 0.53 -2.74 0.18 -2.74 -0.18 -2.42 -0.53 -2.22 -0.88 -2.01 -1.20 -1.76 -1.51 -1.49 -1.79 -1.19 -2.03 -0.87 -2.25 -0.53 -2.45 -0.18 -2.78 0.18 -2.78 0.53 -2.45 0.87 -2.25 1.19 -2.03 1.49 -1.79 1.76 -1.51 2.01 -1.20 2.22 -0.88 2.42 -0.53 2.74 -0.18 2.74 0.18 2.42 0.53 2.22 0.88 2.01 1.20 1.76 1.51 1.49 1.79 1.19 2.03 0.87 2.25 0.53 2.45z" fill="#009900"/>
<path d="M984.00 885.50l-0.18 2.78 -0.53 2.45 -0.87 2.25 -1.19 2.03 -1.49 1.79 -1.76 1.51 -2.01 1.20 -2.22 0.88 -2.42 0.53 -2.74 0.18 -2.74 -0.18 -2.42 -0.53 -2.22 -0.88 -2.01 -1.20 -1.76 -1.51 -1.49 -1.79 -1.19 -2.03 -0.87 -2.25 -0.53 -2.45 -0.18 -2.78 0.18 -2.78 0.53 -2.45 0.87 -2.25 1.19 -2.03 1.49 -1.79 1.76 -1.51 2.01 -1.20 2.22 -0.88 2.42 -0.53 2.74 -0.18 2.74 0.18 2.42 0.53 2.22 0.88 2.01 1.20 1.76 1.51 1.49 1.79 1.19 2.03 0.87 2.25 0.53 2.45z" fill="#009900"/>
<path d="M1015.90 885.50l-0.18 2.78 -0.53 2.45 -0.87 2.25 -1.19 2.03 -1.49 1.79 -1.76 1.51 -2.01 1.20 -2.22 0.88 -2.42 0.53 -2.74 0.18 -2.74 -0.18 -2.42 -0.53 -2.22 -0.88 -2.01 -1.20 -1.76 -1.51 -1.49 -1.79 -1.19 -2.03 -0.87 -2.25 -0.53 -2.45 -0.18 -2.78 0.18 -2.78 0.53 -2.45 0.87 -2.25 1.19 -2.03 1.49 -1.79 1.76 -1.51 2.01 -1.20 2.22 -0.88 2.42 -0.53 2.74 -0.18 2.74 0.18 2.42 0.53 2.22 0.88 2.01 1.20 1.76 1.51 1.49 1.79 1.19 2.03 0.87 2.25 0.53 2.45z" fill="#009900"/>
<path d="M1043.40 883.00l-0.18 2.78 -0.53 2.45 -0.87 2.25 -1.19 2.03 -1.49 1.79 -1.76 1.51 -2.01 1.20 -2.22 0.88 -2.42 0.53 -2.74 0.18 -2.74 -0.18 -2.42 -0.53 -2.22 -0.88 -2.01 -1.20 -1.76 -1.51 -1.49 -1.79 -1.19 -2.03 -0.87 -2.25 -0.53 -2.45 -0.18 -2.78 0.18 -2.78 0.53 -2.45 0.87 -2.25 1.19 -2.03 1.49 -1.79 1.76 -1.51 2.01 -1.20 2.22 -0.88 2.42 -0.53 2.74 -0.18 2.74 0.18 2.42 0.53 2.22 0.88 2.01 1.20 1.76 1.51 1.49 1.79 1.19 2.03 0.87 2.25 0.53 2.45z" fill="#009900"/>
<path d="M1079.90 882.00l-0.18 2.78 -0.53 2.45 -0.87 2.25 -1.19 2.03 -1.49 1.79 -1.76 1.51 -2.01 1.20 -2.22 0.88 -2.42 0.53 -2.74 0.18 -2.74 -0.18 -2.42 -0.53 -2.22 -0.88 -2.01 -1.20 -1.76 -1.51 -1.49 -1.79 -1.19 -2.03 -0.87 -2.25 -0.53 -2.45 -0.18 -2.78 0.18 -2.78 0.53 -2.45 0.87 -2.25 1.19 -2.03 1.49 -1.79 1.76 -1.51 2.01 -1.20 2.22 -0.88 2.42 -0.53 2.74 -0.18 2.74 0.18 2.42 0.53 2.22 0.88 2.01 1.20 1.76 1.51 1.49 1.79 1.19 2.03 0.87 2.25 0.53 2.45z" fill="#009900"/>
<path d="M1110.40 885.00l-0.18 2.78 -0.53 2.45 -0.87 2.25 -1.19 2.03 -1.49 1.79 -1.76 1.51 -2.01 1.20 -2.22 0.88 -2.42 0.53 -2.74 0.18 -2.74 -0.18 -2.42 -0.53 -2.22 -0.88 -2.01 -1.20 -1.76 -1.51 -1.49 -1.79 -1.19 -2.03 -0.87 -2.25 -0.53 -2.45 -0.18 -2.78 0.18 -2.78 0.53 -2.45 0.87 -2.25 1.19 -2.03 1.49 -1.79 1.76 -1.51 2.01 -1.20 2.22 -0.88 2.42 -0.53 2.74 -0.18 2.74 0.18 2.42 0.53 2.22 0.88 2.01 1.20 1.76 1.51 1.49 1.79 1.19 2.03 0.87 2.25 0.53 2.45z" fill="#009900"/>
<path d="M1145.90 880.00l-0.18 2.78 -0.53 2.45 -0.87 2.25 -1.19 2.03 -1.49 1.79 -1.76 1.51 -2.01 1.20 -2.22 0.88 -2.42 0.53 -2.74 0.18 -2.74 -0.18 -2.42 -0.53 -2.22 -0.88 -2.01 -1.20 -1.76 -1.51 -1.49 -1.79 -1.19 -2.03 -0.87 -2.25 -0.53 -2.45 -0.18 -2.78 0.18 -2.78 0.53 -2.45 0.87 -2.25 1.19 -2.03 1.49 -1.79 1.76 -1.51 2.01 -1.20 2.22 -0.88 2.42 -0.53 2.74 -0.18 2.74 0.18 2.42 0.53 2.22 0.88 2.01 1.20 1.76 1.51 1.49 1.79 1.19 2.03 0.87 2.25 0.53 2.45z" fill="#009900"/>
<path d="M1201.40 888.50l-0.18 2.78 -0.53 2.45 -0.87 2.25 -1.19 2.03 -1.49 1.79 -1.76 1.51 -2.01 1.20 -2.22 0.88 -2.42 0.53 -2.74 0.18 -2.74 -0.18 -2.42 -0.53 -2.22 -0.88 -2.01 -1.20 -1.76 -1.51 -1.49 -1.79 -1.19 -2.03 -0.87 -2.25 -0.53 -2.45 -0.18 -2.78 0.18 -2.78 0.53 -2.45 0.87 -2.25 1.19 -2.03 1.49 -1.79 1.76 -1.51 2.01 -1.20 2.22 -0.88 2.42 -0.53 2.74 -0.18 2.74 0.18 2.42 0.53 2.22 0.88 2.01 1.20 1.76 1.51 1.49 1.79 1.19 2.03 0.87 2.25 0.53 2.45z" fill="#009900"/>
<path d="M1208.90 880.00l-0.18 2.78 -0.53 2.45 -0.87 2.25 -1.19 2.03 -1.49 1.79 -1.76 1.51 -2.01 1.20 -2.22 0.88 -2.42 0.53 -2.74 0.18 -2.74 -0.18 -2.42 -0.53 -2.22 -0.88 -2.01 -1.20 -1.76 -1.51 -1.49 -1.79 -1.19 -2.03 -0.87 -2.25 -0.53 -2.45 -0.18 -2.78 0.18 -2.78 0.53 -2.45 0.87 -2.25 1.19 -2.03 1.49 -1.79 1.76 -1.51 2.01 -1.20 2.22 -0.88 2.42 -0.53 2.74 -0.18 2.74 0.18 2.42 0.53 2.22 0.88 2.01 1.20 1.76 1.51 1.49 1.79 1.19 2.03 0.87 2.25 0.53 2.45z" fill="#009900"/>
<path d="M1249.00 882.80l-0.18 2.78 -0.53 2.45 -0.87 2.25 -1.19 2.03 -1.49 1.79 -1.76 1.51 -2.01 1.20 -2.22 0.88 -2.42 0.53 -2.74 0.18 -2.74 -0.18 -2.42 -0.53 -2.22 -0.88 -2.01 -1.20 -1.76 -1.51 -1.49 -1.79 -1.19 -2.03 -0.87 -2.25 -0.53 -2.45 -0.18 -2.78 0.18 -2.78 0.53 -2.45 0.87 -2.25 1.19 -2.03 1.49 -1.79 1.76 -1.51 2.01 -1.20 2.22 -0.88 2.42 -0.53 2.74 -0.18 2.74 0.18 2.42 0.53 2.22 0.88 2.01 1.20 1.76 1.51 1.49 1.79 1.19 2.03 0.87 2.25 0.53 2.45z" fill="#009900"/>
<path d="M1306.40 889.40l-0.18 2.78 -0.53 2.45 -0.87 2.25 -1.19 2.03 -1.49 1.79 -1.76 1.51 -2.01 1.20 -2.22 0.88 -2.42 0.53 -2.74 0.18 -2.74 -0.18 -2.42 -0.53 -2.22 -0.88 -2.01 -1.20 -1.76 -1.51 -1.49 -1.79 -1.19 -2.03 -0.87 -2.25 -0.53 -2.45 -0.18 -2.78 0.18 -2.78 0.53 -2.45 0.87 -2.25 1.19 -2.03 1.49 -1.79 1.76 -1.51 2.01 -1.20 2.22 -0.88 2.42 -0.53 2.74 -0.18 2.74 0.18 2.42 0.53 2.22 0.88 2.01 1.20 1.76 1.51 1.49 1.79 1.19 2.03 0.87 2.25 0.53 2.45z" fill="#009900"/>
<path d="M1355.40 887.50l-0.18 2.78 -0.53 2.45 -0.87 2.25 -1.19 2.03 -1.49 1.79 -1.76 1.51 -2.01 1.20 -2.22 0.88 -2.42 0.53 -2.74 0.18 -2.74 -0.18 -2.42 -0.53 -2.22 -0.88 -2.01 -1.20 -1.76 -1.51 -1.49 -1.79 -1.19 -2.03 -0.87 -2.25 -0.53 -2.45 -0.18 -2.78 0.18 -2.78 0.53 -2.45 0.87 -2.25 1.19 -2.03 1.49 -1.79 1.76 -1.51 2.01 -1.20 2.22 -0.88 2.42 -0.53 2.74 -0.18 2.74 0.18 2.42 0.53 2.22 0.88 2.01 1.20 1.76 1.51 1.49 1.79 1.19 2.03 0.87 2.25 0.53 2.45z" fill="#009900"/>
<path d="M1413.00 904.00l-0.18 2.78 -0.53 2.45 -0.87 2.25 -1.19 2.03 -1.49 1.79 -1.76 1.51 -2.01 1.20 -2.22 0.88 -2.42 0.53 -2.74 0.18 -2.74 -0.18 -2.42 -0.53 -2.22 -0.88 -2.01 -1.20 -1.76 -1.51 -1.49 -1.79 -1.19 -2.03 -0.87 -2.25 -0.53 -2.45 -0.18 -2.78 0.18 -2.78 0.53 -2.45 0.87 -2.25 1.19 -2.03 1.49 -1.79 1.76 -1.51 2.01 -1.20 2.22 -0.88 2.42 -0.53 2.74 -0.18 2.74 0.18 2.42 0.53 2.22 0.88 2.01 1.20 1.76 1.51 1.49 1.79 1.19 2.03 0.87 2.25 0.53 2.45z" fill="#009900"/>
<rect x="500.25" y="24.25" width="1360.5" height="1039.75" fill="none" stroke="#000" stroke-width="8.5"/>
<line x1="616" y1="204.50" x2="760" y2="204.50" stroke="#000" stroke-width="8.5"/>
<rect x="665" y="181.5" width="47.5" height="48.5" fill="#000"/>
<text x="791" y="228.0" font-family='"Liberation Sans", Arial, sans-serif' font-size="76" letter-spacing="-0.35">PBSA</text>
<line x1="616" y1="290.35" x2="760" y2="290.35" stroke="#f00" stroke-width="8.5"/>
<path d="M712.50 291.65l-0.27 4.24 -0.79 3.74 -1.30 3.43 -1.79 3.10 -2.24 2.72 -2.65 2.30 -3.02 1.84 -3.35 1.34 -3.65 0.81 -4.13 0.27 -4.13 -0.27 -3.65 -0.81 -3.35 -1.34 -3.02 -1.84 -2.65 -2.30 -2.24 -2.72 -1.79 -3.10 -1.30 -3.43 -0.79 -3.74 -0.27 -4.24 0.27 -4.24 0.79 -3.74 1.30 -3.43 1.79 -3.10 2.24 -2.72 2.65 -2.30 3.02 -1.84 3.35 -1.34 3.65 -0.81 4.13 -0.27 4.13 0.27 3.65 0.81 3.35 1.34 3.02 1.84 2.65 2.30 2.24 2.72 1.79 3.10 1.30 3.43 0.79 3.74z" fill="#f00"/>
<text x="791" y="313.5" font-family='"Liberation Sans", Arial, sans-serif' font-size="76" letter-spacing="-0.35">PBSA 2% LDH</text>
<line x1="616" y1="375.85" x2="760" y2="375.85" stroke="#0000cc" stroke-width="8.5"/>
<path d="M712.50 377.15l-0.27 4.24 -0.79 3.74 -1.30 3.43 -1.79 3.10 -2.24 2.72 -2.65 2.30 -3.02 1.84 -3.35 1.34 -3.65 0.81 -4.13 0.27 -4.13 -0.27 -3.65 -0.81 -3.35 -1.34 -3.02 -1.84 -2.65 -2.30 -2.24 -2.72 -1.79 -3.10 -1.30 -3.43 -0.79 -3.74 -0.27 -4.24 0.27 -4.24 0.79 -3.74 1.30 -3.43 1.79 -3.10 2.24 -2.72 2.65 -2.30 3.02 -1.84 3.35 -1.34 3.65 -0.81 4.13 -0.27 4.13 0.27 3.65 0.81 3.35 1.34 3.02 1.84 2.65 2.30 2.24 2.72 1.79 3.10 1.30 3.43 0.79 3.74z" fill="#0000cc"/>
<text x="791" y="399.0" font-family='"Liberation Sans", Arial, sans-serif' font-size="76" letter-spacing="-0.35">PBSA 5% LDH</text>
<line x1="616" y1="461.35" x2="760" y2="461.35" stroke="#009900" stroke-width="8.5"/>
<path d="M712.50 462.65l-0.27 4.24 -0.79 3.74 -1.30 3.43 -1.79 3.10 -2.24 2.72 -2.65 2.30 -3.02 1.84 -3.35 1.34 -3.65 0.81 -4.13 0.27 -4.13 -0.27 -3.65 -0.81 -3.35 -1.34 -3.02 -1.84 -2.65 -2.30 -2.24 -2.72 -1.79 -3.10 -1.30 -3.43 -0.79 -3.74 -0.27 -4.24 0.27 -4.24 0.79 -3.74 1.30 -3.43 1.79 -3.10 2.24 -2.72 2.65 -2.30 3.02 -1.84 3.35 -1.34 3.65 -0.81 4.13 -0.27 4.13 0.27 3.65 0.81 3.35 1.34 3.02 1.84 2.65 2.30 2.24 2.72 1.79 3.10 1.30 3.43 0.79 3.74z" fill="#009900"/>
<text x="791" y="484.5" font-family='"Liberation Sans", Arial, sans-serif' font-size="76" letter-spacing="-0.35">PBSA 8% LDH</text>
</svg>
</body></html>
